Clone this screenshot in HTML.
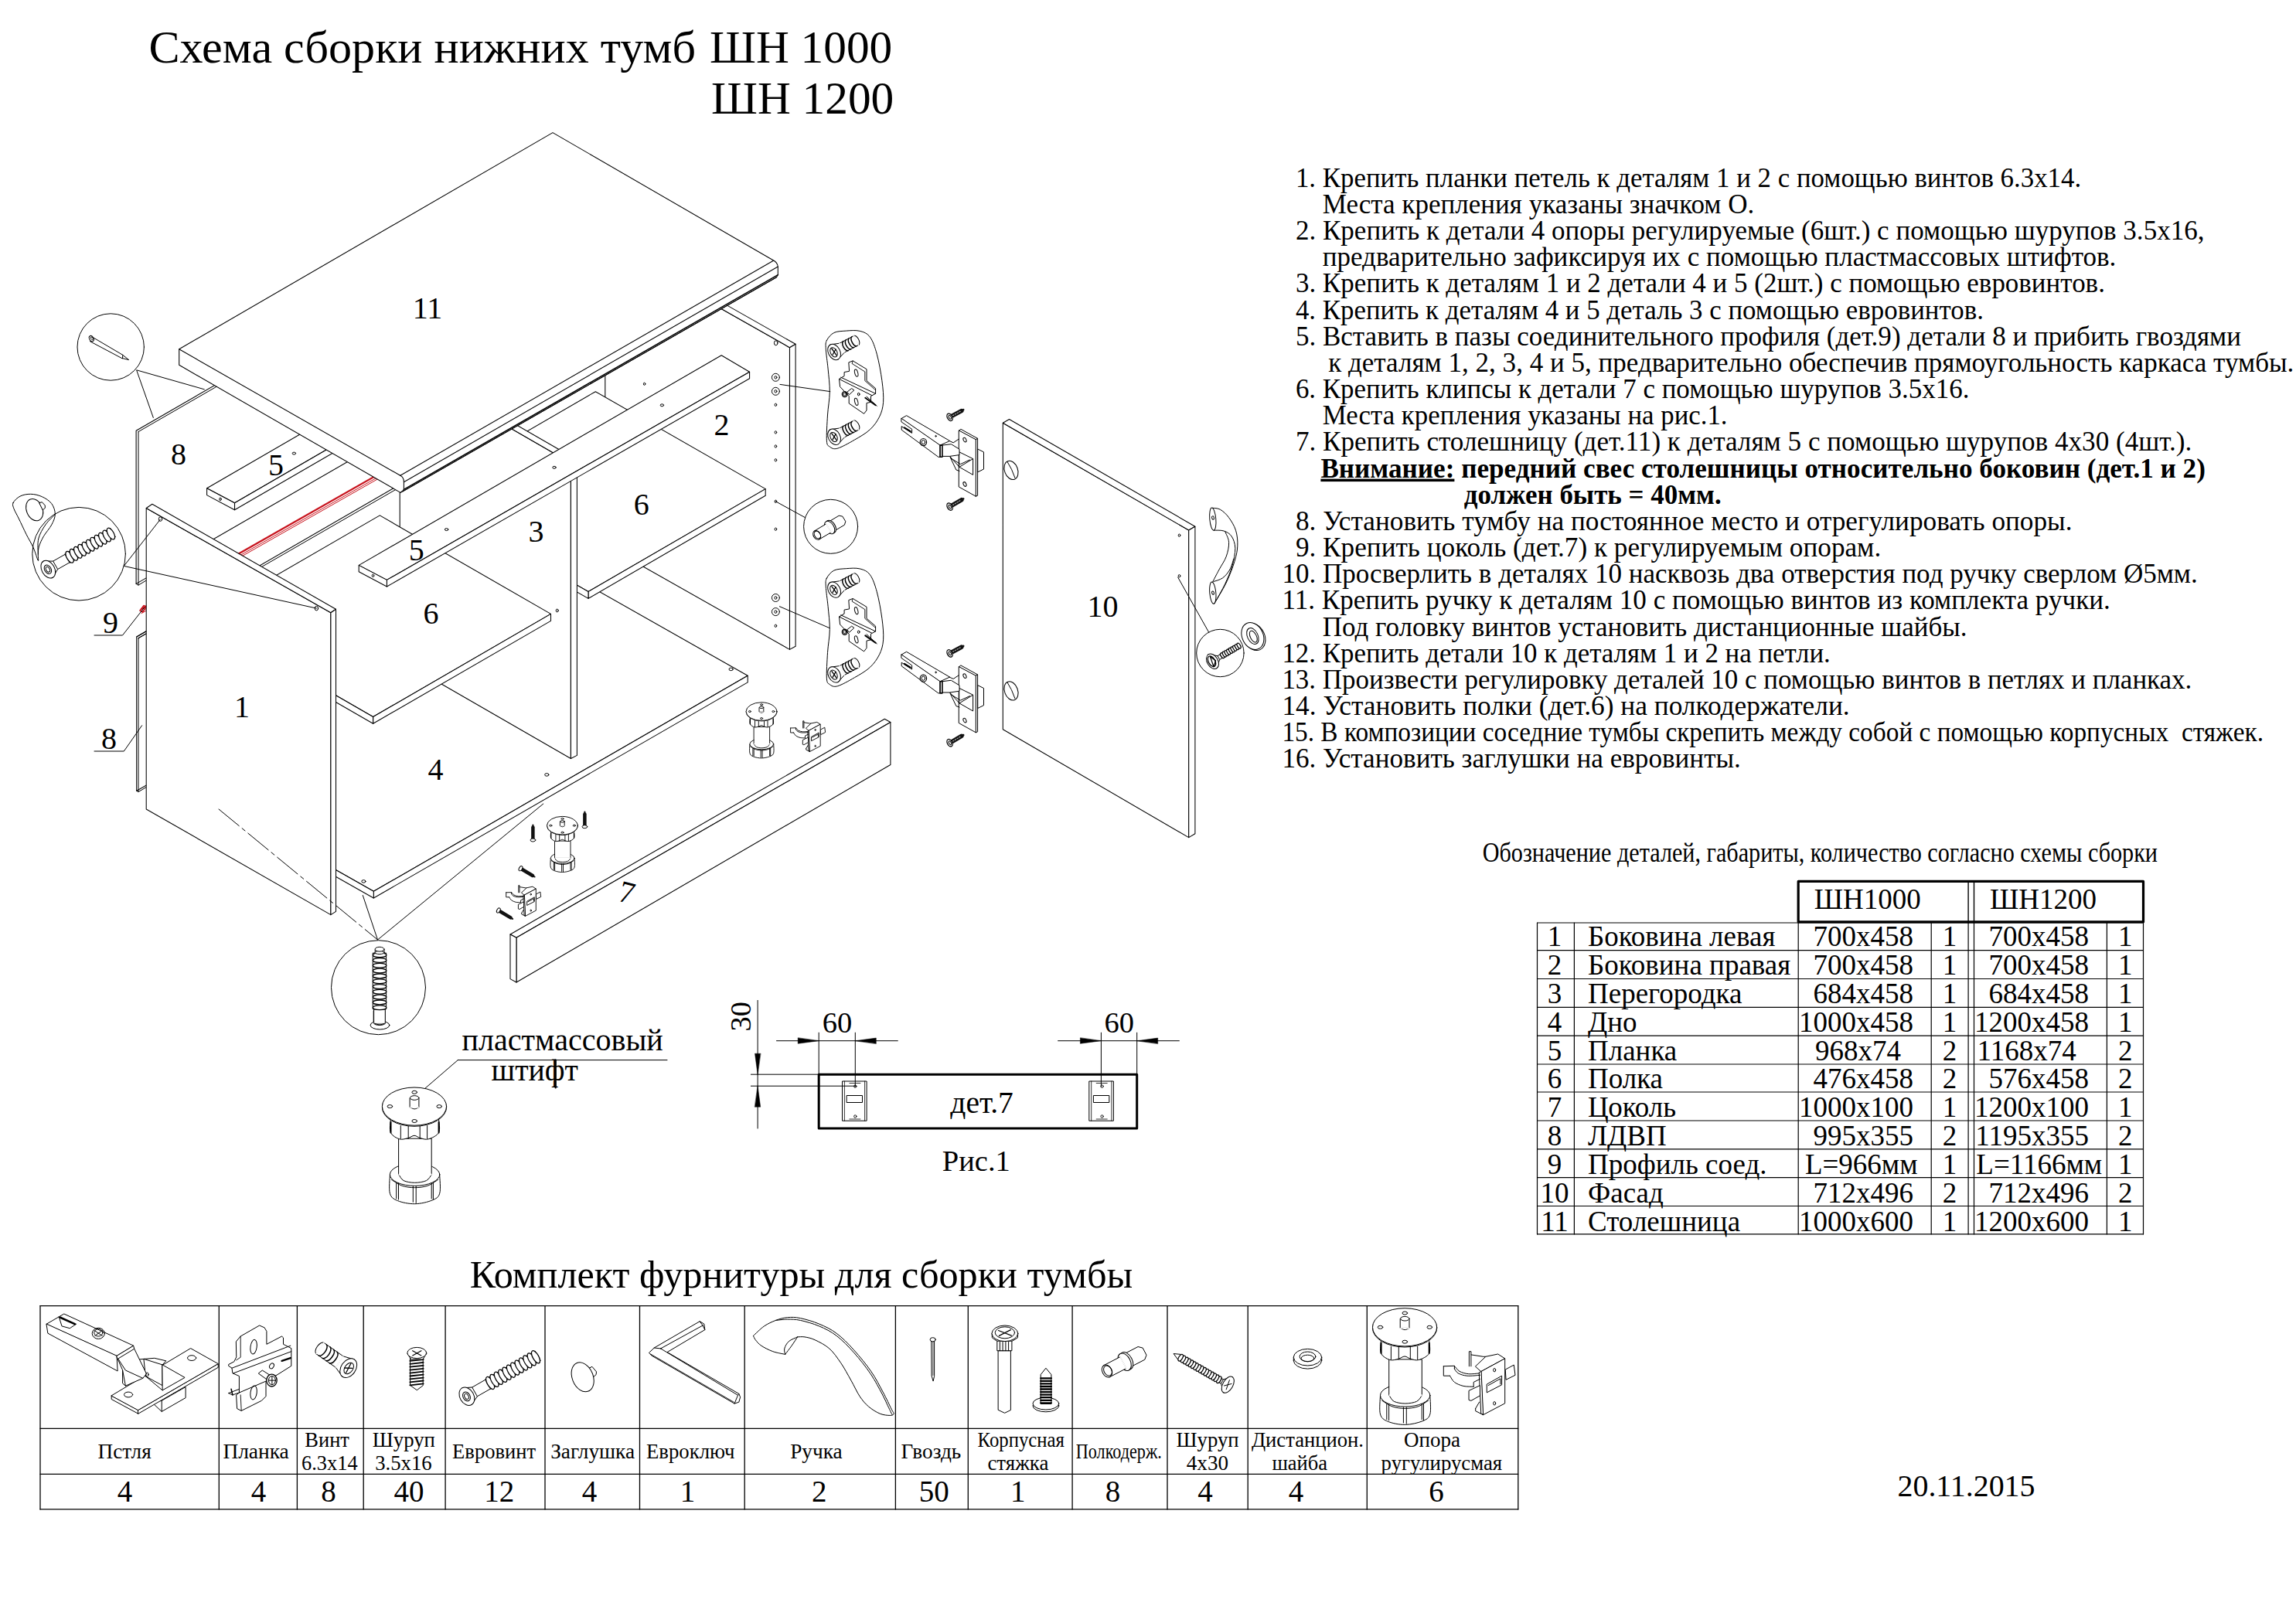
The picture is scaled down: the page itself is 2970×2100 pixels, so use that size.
<!DOCTYPE html>
<html lang="ru"><head><meta charset="utf-8"><title>Схема сборки нижних тумб ШН 1000 / ШН 1200</title>
<style>
html,body{margin:0;padding:0;background:#fff}
svg{display:block}
text{font-family:"Liberation Serif","Times New Roman",serif;fill:#000;white-space:pre}
path,ellipse,line,rect,circle{stroke-linecap:round;stroke-linejoin:round}
</style></head><body>
<svg width="2970" height="2100" viewBox="0 0 2970 2100">
<rect x="0" y="0" width="2970" height="2100" fill="#fff" stroke="none"/>
<text x="192.5" y="80.8" font-size="59.5" textLength="707.5" lengthAdjust="spacingAndGlyphs" >Схема сборки нижних тумб</text>
<text x="918.0" y="80.8" font-size="59.5" textLength="236.3" lengthAdjust="spacingAndGlyphs" >ШН 1000</text>
<text x="920.0" y="146.7" font-size="59.5" textLength="236.3" lengthAdjust="spacingAndGlyphs" >ШН 1200</text>
<text x="1675.9" y="241.7" font-size="35" textLength="1016.3" lengthAdjust="spacingAndGlyphs" >1. Крепить планки петель к деталям 1 и 2 с помощью винтов 6.3х14.</text>
<text x="1710.7" y="275.9" font-size="35" textLength="558.6" lengthAdjust="spacingAndGlyphs" >Места крепления указаны значком О.</text>
<text x="1675.9" y="310.0" font-size="35" textLength="1175.6" lengthAdjust="spacingAndGlyphs" >2. Крепить к детали 4 опоры регулируемые (6шт.) с помощью шурупов 3.5х16,</text>
<text x="1710.7" y="344.2" font-size="35" textLength="1026.7" lengthAdjust="spacingAndGlyphs" >предварительно зафиксируя их с помощью пластмассовых штифтов.</text>
<text x="1675.9" y="378.4" font-size="35" textLength="1047.0" lengthAdjust="spacingAndGlyphs" >3. Крепить к деталям 1 и 2 детали 4 и 5 (2шт.) с помощью евровинтов.</text>
<text x="1675.9" y="412.6" font-size="35" textLength="890.0" lengthAdjust="spacingAndGlyphs" >4. Крепить к деталям 4 и 5 деталь 3 с помощью евровинтов.</text>
<text x="1675.9" y="446.7" font-size="35" textLength="1223.1" lengthAdjust="spacingAndGlyphs" >5. Вставить в пазы соединительного профиля (дет.9) детали 8 и прибить гвоздями</text>
<text x="1718.2" y="480.9" font-size="35" textLength="1249.1" lengthAdjust="spacingAndGlyphs" >к деталям 1, 2, 3, 4 и 5, предварительно обеспечив прямоугольность каркаса тумбы.</text>
<text x="1675.9" y="515.1" font-size="35" textLength="871.5" lengthAdjust="spacingAndGlyphs" >6. Крепить клипсы к детали 7 с помощью шурупов 3.5х16.</text>
<text x="1710.7" y="549.2" font-size="35" textLength="523.9" lengthAdjust="spacingAndGlyphs" >Места крепления указаны на рис.1.</text>
<text x="1675.9" y="583.4" font-size="35" textLength="1159.4" lengthAdjust="spacingAndGlyphs" >7. Крепить столешницу (дет.11) к деталям 5 с помощью шурупов 4х30 (4шт.).</text>
<text x="1675.9" y="685.9" font-size="35" textLength="1004.7" lengthAdjust="spacingAndGlyphs" >8. Установить тумбу на постоянное место и отрегулировать опоры.</text>
<text x="1675.9" y="720.1" font-size="35" textLength="757.3" lengthAdjust="spacingAndGlyphs" >9. Крепить цоколь (дет.7) к регулируемым опорам.</text>
<text x="1658.4" y="754.2" font-size="35" textLength="1184.4" lengthAdjust="spacingAndGlyphs" >10. Просверлить в деталях 10 насквозь два отверстия под ручку сверлом Ø5мм.</text>
<text x="1658.4" y="788.4" font-size="35" textLength="1071.4" lengthAdjust="spacingAndGlyphs" >11. Крепить ручку к деталям 10 с помощью винтов из комплекта ручки.</text>
<text x="1710.7" y="822.6" font-size="35" textLength="833.8" lengthAdjust="spacingAndGlyphs" >Под головку винтов установить дистанционные шайбы.</text>
<text x="1658.4" y="856.8" font-size="35" textLength="709.4" lengthAdjust="spacingAndGlyphs" >12. Крепить детали 10 к деталям 1 и 2 на петли.</text>
<text x="1658.4" y="890.9" font-size="35" textLength="1176.9" lengthAdjust="spacingAndGlyphs" >13. Произвести регулировку деталей 10 с помощью винтов в петлях и планках.</text>
<text x="1658.4" y="925.1" font-size="35" textLength="734.3" lengthAdjust="spacingAndGlyphs" >14. Установить полки (дет.6) на полкодержатели.</text>
<text x="1658.4" y="959.3" font-size="35" textLength="1269.6" lengthAdjust="spacingAndGlyphs" >15. В композиции соседние тумбы скрепить между собой с помощью корпусных  стяжек.</text>
<text x="1658.4" y="993.4" font-size="35" textLength="593.5" lengthAdjust="spacingAndGlyphs" >16. Установить заглушки на евровинты.</text>
<text x="1708.4" y="617.6" font-size="35" font-weight="bold" textLength="1144.5" lengthAdjust="spacingAndGlyphs"><tspan text-decoration="underline">Внимание:</tspan> передний свес столешницы относительно боковин (дет.1 и 2)</text>
<text x="1893.7" y="651.7" font-size="35" textLength="333.0" lengthAdjust="spacingAndGlyphs" font-weight="bold" >должен быть = 40мм.</text>
<text x="1917.7" y="1115.0" font-size="35" textLength="873.3" lengthAdjust="spacingAndGlyphs" >Обозначение деталей, габариты, количество согласно схемы сборки</text>
<path d="M1988.5 1194.0 L2772.5 1194.0" fill="none" stroke="#000" stroke-width="1.2" />
<path d="M1988.5 1229.7 L2772.5 1229.7" fill="none" stroke="#000" stroke-width="1.2" />
<path d="M1988.5 1266.5 L2772.5 1266.5" fill="none" stroke="#000" stroke-width="1.2" />
<path d="M1988.5 1303.4 L2772.5 1303.4" fill="none" stroke="#000" stroke-width="1.2" />
<path d="M1988.5 1340.2 L2772.5 1340.2" fill="none" stroke="#000" stroke-width="1.2" />
<path d="M1988.5 1377.0 L2772.5 1377.0" fill="none" stroke="#000" stroke-width="1.2" />
<path d="M1988.5 1413.0 L2772.5 1413.0" fill="none" stroke="#000" stroke-width="1.2" />
<path d="M1988.5 1450.0 L2772.5 1450.0" fill="none" stroke="#000" stroke-width="1.2" />
<path d="M1988.5 1486.8 L2772.5 1486.8" fill="none" stroke="#000" stroke-width="1.2" />
<path d="M1988.5 1523.6 L2772.5 1523.6" fill="none" stroke="#000" stroke-width="1.2" />
<path d="M1988.5 1560.5 L2772.5 1560.5" fill="none" stroke="#000" stroke-width="1.2" />
<path d="M1988.5 1596.9 L2772.5 1596.9" fill="none" stroke="#000" stroke-width="1.2" />
<path d="M1988.5 1194.0 L1988.5 1596.9" fill="none" stroke="#000" stroke-width="1.2" />
<path d="M2036.4 1194.0 L2036.4 1596.9" fill="none" stroke="#000" stroke-width="1.2" />
<path d="M2326.2 1194.0 L2326.2 1596.9" fill="none" stroke="#000" stroke-width="1.2" />
<path d="M2498.2 1194.0 L2498.2 1596.9" fill="none" stroke="#000" stroke-width="1.2" />
<path d="M2546.1 1194.0 L2546.1 1596.9" fill="none" stroke="#000" stroke-width="1.2" />
<path d="M2553.5 1194.0 L2553.5 1596.9" fill="none" stroke="#000" stroke-width="1.2" />
<path d="M2725.4 1194.0 L2725.4 1596.9" fill="none" stroke="#000" stroke-width="1.2" />
<path d="M2772.5 1194.0 L2772.5 1596.9" fill="none" stroke="#000" stroke-width="1.2" />
<rect x="2326.2" y="1140.4" width="446.3" height="52.4" fill="none" stroke="#000" stroke-width="3.2"/>
<path d="M2546.1 1140.4 L2546.1 1194.0" fill="none" stroke="#000" stroke-width="1.4" />
<path d="M2553.5 1140.4 L2553.5 1194.0" fill="none" stroke="#000" stroke-width="1.4" />
<text x="2346.7" y="1175.6" font-size="37" >ШН1000</text>
<text x="2573.9" y="1175.6" font-size="37" >ШН1200</text>
<text x="2011.0" y="1223.5" font-size="37" text-anchor="middle" >1</text>
<text x="2054.0" y="1223.5" font-size="37" >Боковина левая</text>
<text x="2475.0" y="1223.5" font-size="37" text-anchor="end" >700х458</text>
<text x="2522.0" y="1223.5" font-size="37" text-anchor="middle" >1</text>
<text x="2702.0" y="1223.5" font-size="37" text-anchor="end" >700х458</text>
<text x="2749.2" y="1223.5" font-size="37" text-anchor="middle" >1</text>
<text x="2011.0" y="1260.5" font-size="37" text-anchor="middle" >2</text>
<text x="2054.0" y="1260.5" font-size="37" >Боковина правая</text>
<text x="2475.0" y="1260.5" font-size="37" text-anchor="end" >700х458</text>
<text x="2522.0" y="1260.5" font-size="37" text-anchor="middle" >1</text>
<text x="2702.0" y="1260.5" font-size="37" text-anchor="end" >700х458</text>
<text x="2749.2" y="1260.5" font-size="37" text-anchor="middle" >1</text>
<text x="2011.0" y="1297.6" font-size="37" text-anchor="middle" >3</text>
<text x="2054.0" y="1297.6" font-size="37" >Перегородка</text>
<text x="2475.0" y="1297.6" font-size="37" text-anchor="end" >684х458</text>
<text x="2522.0" y="1297.6" font-size="37" text-anchor="middle" >1</text>
<text x="2702.0" y="1297.6" font-size="37" text-anchor="end" >684х458</text>
<text x="2749.2" y="1297.6" font-size="37" text-anchor="middle" >1</text>
<text x="2011.0" y="1334.7" font-size="37" text-anchor="middle" >4</text>
<text x="2054.0" y="1334.7" font-size="37" >Дно</text>
<text x="2475.0" y="1334.7" font-size="37" text-anchor="end" >1000х458</text>
<text x="2522.0" y="1334.7" font-size="37" text-anchor="middle" >1</text>
<text x="2702.0" y="1334.7" font-size="37" text-anchor="end" >1200х458</text>
<text x="2749.2" y="1334.7" font-size="37" text-anchor="middle" >1</text>
<text x="2011.0" y="1371.7" font-size="37" text-anchor="middle" >5</text>
<text x="2054.0" y="1371.7" font-size="37" >Планка</text>
<text x="2348.0" y="1371.7" font-size="37" >968х74</text>
<text x="2522.0" y="1371.7" font-size="37" text-anchor="middle" >2</text>
<text x="2557.6" y="1371.7" font-size="37" >1168х74</text>
<text x="2749.2" y="1371.7" font-size="37" text-anchor="middle" >2</text>
<text x="2011.0" y="1407.9" font-size="37" text-anchor="middle" >6</text>
<text x="2054.0" y="1407.9" font-size="37" >Полка</text>
<text x="2475.0" y="1407.9" font-size="37" text-anchor="end" >476х458</text>
<text x="2522.0" y="1407.9" font-size="37" text-anchor="middle" >2</text>
<text x="2702.0" y="1407.9" font-size="37" text-anchor="end" >576х458</text>
<text x="2749.2" y="1407.9" font-size="37" text-anchor="middle" >2</text>
<text x="2011.0" y="1445.1" font-size="37" text-anchor="middle" >7</text>
<text x="2054.0" y="1445.1" font-size="37" >Цоколь</text>
<text x="2475.0" y="1445.1" font-size="37" text-anchor="end" >1000х100</text>
<text x="2522.0" y="1445.1" font-size="37" text-anchor="middle" >1</text>
<text x="2702.0" y="1445.1" font-size="37" text-anchor="end" >1200х100</text>
<text x="2749.2" y="1445.1" font-size="37" text-anchor="middle" >1</text>
<text x="2011.0" y="1482.1" font-size="37" text-anchor="middle" >8</text>
<text x="2054.0" y="1482.1" font-size="37" >ЛДВП</text>
<text x="2475.0" y="1482.1" font-size="37" text-anchor="end" >995х355</text>
<text x="2522.0" y="1482.1" font-size="37" text-anchor="middle" >2</text>
<text x="2702.0" y="1482.1" font-size="37" text-anchor="end" >1195х355</text>
<text x="2749.2" y="1482.1" font-size="37" text-anchor="middle" >2</text>
<text x="2011.0" y="1519.2" font-size="37" text-anchor="middle" >9</text>
<text x="2054.0" y="1519.2" font-size="37" >Профиль соед.</text>
<text x="2480.7" y="1519.2" font-size="37" text-anchor="end" >L=966мм</text>
<text x="2522.0" y="1519.2" font-size="37" text-anchor="middle" >1</text>
<text x="2556.3" y="1519.2" font-size="37" >L=1166мм</text>
<text x="2749.2" y="1519.2" font-size="37" text-anchor="middle" >1</text>
<text x="2011.0" y="1556.3" font-size="37" text-anchor="middle" >10</text>
<text x="2054.0" y="1556.3" font-size="37" >Фасад</text>
<text x="2475.0" y="1556.3" font-size="37" text-anchor="end" >712х496</text>
<text x="2522.0" y="1556.3" font-size="37" text-anchor="middle" >2</text>
<text x="2702.0" y="1556.3" font-size="37" text-anchor="end" >712х496</text>
<text x="2749.2" y="1556.3" font-size="37" text-anchor="middle" >2</text>
<text x="2011.0" y="1592.9" font-size="37" text-anchor="middle" >11</text>
<text x="2054.0" y="1592.9" font-size="37" >Столешница</text>
<text x="2475.0" y="1592.9" font-size="37" text-anchor="end" >1000х600</text>
<text x="2522.0" y="1592.9" font-size="37" text-anchor="middle" >1</text>
<text x="2702.0" y="1592.9" font-size="37" text-anchor="end" >1200х600</text>
<text x="2749.2" y="1592.9" font-size="37" text-anchor="middle" >1</text>
<text x="607.7" y="1666.1" font-size="50" textLength="857.5" lengthAdjust="spacingAndGlyphs" >Комплект фурнитуры для сборки тумбы</text>
<path d="M52.0 1689.6 L1963.8 1689.6" fill="none" stroke="#000" stroke-width="1.3" />
<path d="M52.0 1848.3 L1963.8 1848.3" fill="none" stroke="#000" stroke-width="1.3" />
<path d="M52.0 1907.3 L1963.8 1907.3" fill="none" stroke="#000" stroke-width="1.3" />
<path d="M52.0 1952.9 L1963.8 1952.9" fill="none" stroke="#000" stroke-width="1.3" />
<path d="M52.0 1689.6 L52.0 1952.9" fill="none" stroke="#000" stroke-width="1.3" />
<path d="M283.3 1689.6 L283.3 1952.9" fill="none" stroke="#000" stroke-width="1.3" />
<path d="M384.4 1689.6 L384.4 1952.9" fill="none" stroke="#000" stroke-width="1.3" />
<path d="M470.2 1689.6 L470.2 1952.9" fill="none" stroke="#000" stroke-width="1.3" />
<path d="M576.1 1689.6 L576.1 1952.9" fill="none" stroke="#000" stroke-width="1.3" />
<path d="M705.0 1689.6 L705.0 1952.9" fill="none" stroke="#000" stroke-width="1.3" />
<path d="M827.5 1689.6 L827.5 1952.9" fill="none" stroke="#000" stroke-width="1.3" />
<path d="M963.2 1689.6 L963.2 1952.9" fill="none" stroke="#000" stroke-width="1.3" />
<path d="M1158.4 1689.6 L1158.4 1952.9" fill="none" stroke="#000" stroke-width="1.3" />
<path d="M1252.3 1689.6 L1252.3 1952.9" fill="none" stroke="#000" stroke-width="1.3" />
<path d="M1387.1 1689.6 L1387.1 1952.9" fill="none" stroke="#000" stroke-width="1.3" />
<path d="M1510.0 1689.6 L1510.0 1952.9" fill="none" stroke="#000" stroke-width="1.3" />
<path d="M1614.2 1689.6 L1614.2 1952.9" fill="none" stroke="#000" stroke-width="1.3" />
<path d="M1768.3 1689.6 L1768.3 1952.9" fill="none" stroke="#000" stroke-width="1.3" />
<path d="M1963.8 1689.6 L1963.8 1952.9" fill="none" stroke="#000" stroke-width="1.3" />
<text x="126.6" y="1886.8" font-size="27" textLength="69.1" lengthAdjust="spacingAndGlyphs" >Пстля</text>
<text x="288.4" y="1886.8" font-size="27" textLength="85.4" lengthAdjust="spacingAndGlyphs" >Планка</text>
<text x="585.1" y="1886.8" font-size="27" textLength="108.0" lengthAdjust="spacingAndGlyphs" >Евровинт</text>
<text x="712.2" y="1886.8" font-size="27" textLength="108.8" lengthAdjust="spacingAndGlyphs" >Заглушка</text>
<text x="836.0" y="1886.8" font-size="27" textLength="114.4" lengthAdjust="spacingAndGlyphs" >Евроключ</text>
<text x="1022.2" y="1886.8" font-size="27" textLength="67.4" lengthAdjust="spacingAndGlyphs" >Ручка</text>
<text x="1165.6" y="1886.8" font-size="27" textLength="77.7" lengthAdjust="spacingAndGlyphs" >Гвоздь</text>
<text x="1391.8" y="1886.8" font-size="27" textLength="111.0" lengthAdjust="spacingAndGlyphs" >Полкодерж.</text>
<text x="394.3" y="1871.8" font-size="27" textLength="57.6" lengthAdjust="spacingAndGlyphs" >Винт</text>
<text x="390.0" y="1901.7" font-size="27" textLength="72.6" lengthAdjust="spacingAndGlyphs" >6.3х14</text>
<text x="481.8" y="1871.8" font-size="27" textLength="81.1" lengthAdjust="spacingAndGlyphs" >Шуруп</text>
<text x="485.2" y="1901.7" font-size="27" textLength="73.4" lengthAdjust="spacingAndGlyphs" >3.5х16</text>
<text x="1264.6" y="1871.8" font-size="27" textLength="112.3" lengthAdjust="spacingAndGlyphs" >Корпусная</text>
<text x="1277.4" y="1901.7" font-size="27" textLength="79.0" lengthAdjust="spacingAndGlyphs" >стяжка</text>
<text x="1521.6" y="1871.8" font-size="27" textLength="81.1" lengthAdjust="spacingAndGlyphs" >Шуруп</text>
<text x="1534.8" y="1901.7" font-size="27" textLength="54.2" lengthAdjust="spacingAndGlyphs" >4х30</text>
<text x="1618.9" y="1871.8" font-size="27" textLength="145.1" lengthAdjust="spacingAndGlyphs" >Дистанцион.</text>
<text x="1645.4" y="1901.7" font-size="27" textLength="71.7" lengthAdjust="spacingAndGlyphs" >шайба</text>
<text x="1816.1" y="1871.8" font-size="27" textLength="73.0" lengthAdjust="spacingAndGlyphs" >Опора</text>
<text x="1786.6" y="1901.7" font-size="27" textLength="156.6" lengthAdjust="spacingAndGlyphs" >ругулирусмая</text>
<text x="161.6" y="1943.1" font-size="39" text-anchor="middle" >4</text>
<text x="334.5" y="1943.1" font-size="39" text-anchor="middle" >4</text>
<text x="425.0" y="1943.1" font-size="39" text-anchor="middle" >8</text>
<text x="529.1" y="1943.1" font-size="39" text-anchor="middle" >40</text>
<text x="645.7" y="1943.1" font-size="39" text-anchor="middle" >12</text>
<text x="762.6" y="1943.1" font-size="39" text-anchor="middle" >4</text>
<text x="889.4" y="1943.1" font-size="39" text-anchor="middle" >1</text>
<text x="1059.8" y="1943.1" font-size="39" text-anchor="middle" >2</text>
<text x="1208.3" y="1943.1" font-size="39" text-anchor="middle" >50</text>
<text x="1316.7" y="1943.1" font-size="39" text-anchor="middle" >1</text>
<text x="1439.6" y="1943.1" font-size="39" text-anchor="middle" >8</text>
<text x="1559.1" y="1943.1" font-size="39" text-anchor="middle" >4</text>
<text x="1676.5" y="1943.1" font-size="39" text-anchor="middle" >4</text>
<text x="1857.9" y="1943.1" font-size="39" text-anchor="middle" >6</text>
<text x="2454.5" y="1935.5" font-size="39.5" textLength="178.0" lengthAdjust="spacingAndGlyphs" >20.11.2015</text>
<text x="597.6" y="1358.9" font-size="40" textLength="260.2" lengthAdjust="spacingAndGlyphs" >пластмассовый</text>
<text x="635.5" y="1398.3" font-size="40" textLength="112.5" lengthAdjust="spacingAndGlyphs" >штифт</text>
<text x="1229.3" y="1439.7" font-size="39.5" >дет.7</text>
<text x="1218.8" y="1515.0" font-size="38.5" >Рис.1</text>
<text x="1063.8" y="1335.5" font-size="38.5" >60</text>
<text x="1428.6" y="1335.5" font-size="38.5" >60</text>
<text x="971.4" y="1334.5" font-size="38.5" transform="rotate(-90 971.4 1334.5)">30</text>
<path d="M176.1 557.2 L657.6 279.0 L657.6 477.4 L176.1 755.4 Z" fill="#fff" stroke="#000" stroke-width="1.05" />
<path d="M179.0 558.6 L660.0 281.0" fill="none" stroke="#000" stroke-width="1.0" />
<path d="M179.0 558.6 L179.0 757.1" fill="none" stroke="#000" stroke-width="1.0" />
<path d="M176.1 755.4 L179.0 757.1 L189.2 751.0" fill="none" stroke="#000" stroke-width="1.0" />
<path d="M183.0 788.0 L700.0 494.0" fill="none" stroke="#c8141e" stroke-width="2.2" />
<path d="M183.0 791.2 L700.0 497.2" fill="none" stroke="#c8141e" stroke-width="1.0" />
<path d="M183.0 793.6 L700.0 499.6" fill="none" stroke="#c8141e" stroke-width="1.0" />
<path d="M181.0 790.0 L186.0 783.5 L189.0 785.0 L184.5 792.0 L181.0 790.0" fill="none" stroke="#c8141e" stroke-width="1.6" />
<path d="M176.7 824.0 L658.2 545.5 L658.2 745.0 L176.7 1023.3 Z" fill="#fff" stroke="#000" stroke-width="1.05" />
<path d="M178.9 826.0 L189.2 820.0" fill="none" stroke="#000" stroke-width="1.0" />
<path d="M179.2 825.4 L660.0 548.0" fill="none" stroke="#000" stroke-width="1.0" />
<path d="M179.0 825.4 L179.0 1024.5" fill="none" stroke="#000" stroke-width="1.0" />
<path d="M176.7 1023.3 L179.0 1024.6 L189.2 1018.5" fill="none" stroke="#000" stroke-width="1.0" />
<path d="M176.7 824.0 L189.2 816.7" fill="none" stroke="#000" stroke-width="1.05" />
<path d="M1021.5 449.7 L1021.5 840.4 L782.8 705.2 L782.8 314.5 Z" fill="#fff" stroke="#000" stroke-width="1.05" />
<path d="M1021.5 449.7 L1029.1 445.3 L790.4 310.1 L782.8 314.5 Z" fill="#fff" stroke="#000" stroke-width="1.05" />
<path d="M1021.5 449.7 L1029.1 445.3 L1029.1 836.2 L1021.5 840.4 Z" fill="#fff" stroke="#000" stroke-width="1.05" />
<ellipse cx="1003.7" cy="443.8" rx="2.3" ry="3.0" fill="none" stroke="#000" stroke-width="1.0"/>
<ellipse cx="1003.4" cy="488.3" rx="5.0" ry="5.0" fill="none" stroke="#000" stroke-width="1.0"/>
<ellipse cx="1003.4" cy="488.3" rx="1.5" ry="1.8" fill="none" stroke="#000" stroke-width="1.0"/>
<ellipse cx="1003.4" cy="506.3" rx="5.0" ry="5.0" fill="none" stroke="#000" stroke-width="1.0"/>
<ellipse cx="1003.4" cy="506.3" rx="1.5" ry="1.8" fill="none" stroke="#000" stroke-width="1.0"/>
<ellipse cx="1003.4" cy="773.5" rx="5.0" ry="5.0" fill="none" stroke="#000" stroke-width="1.0"/>
<ellipse cx="1003.4" cy="773.5" rx="1.5" ry="1.8" fill="none" stroke="#000" stroke-width="1.0"/>
<ellipse cx="1003.4" cy="791.6" rx="5.0" ry="5.0" fill="none" stroke="#000" stroke-width="1.0"/>
<ellipse cx="1003.4" cy="791.6" rx="1.5" ry="1.8" fill="none" stroke="#000" stroke-width="1.0"/>
<ellipse cx="1003.4" cy="523.8" rx="1.3" ry="1.7" fill="none" stroke="#000" stroke-width="1.0"/>
<ellipse cx="1003.4" cy="559.4" rx="1.3" ry="1.7" fill="none" stroke="#000" stroke-width="1.0"/>
<ellipse cx="1003.4" cy="577.5" rx="1.3" ry="1.7" fill="none" stroke="#000" stroke-width="1.0"/>
<ellipse cx="1003.4" cy="595.3" rx="1.3" ry="1.7" fill="none" stroke="#000" stroke-width="1.0"/>
<ellipse cx="1003.4" cy="648.8" rx="1.3" ry="1.7" fill="none" stroke="#000" stroke-width="1.0"/>
<ellipse cx="1003.4" cy="684.7" rx="1.3" ry="1.7" fill="none" stroke="#000" stroke-width="1.0"/>
<ellipse cx="1003.4" cy="809.8" rx="1.3" ry="1.7" fill="none" stroke="#000" stroke-width="1.0"/>
<ellipse cx="833.6" cy="496.8" rx="1.2" ry="1.6" fill="none" stroke="#000" stroke-width="1.0"/>
<path d="M483.3 1153.3 L967.2 874.2 L728.5 739.0 L244.6 1018.1 Z" fill="#fff" stroke="#000" stroke-width="1.05" />
<path d="M483.3 1153.3 L967.2 874.2 L967.2 882.9 L483.3 1162.0 Z" fill="#fff" stroke="#000" stroke-width="1.05" />
<path d="M483.3 1153.3 L483.3 1162.0 L244.6 1026.8 L244.6 1018.1 Z" fill="#fff" stroke="#000" stroke-width="1.05" />
<ellipse cx="470.4" cy="1140.4" rx="2.6" ry="1.8" fill="none" stroke="#000" stroke-width="1.0"/>
<ellipse cx="945.6" cy="865.9" rx="2.6" ry="1.8" fill="none" stroke="#000" stroke-width="1.0"/>
<ellipse cx="707.3" cy="1002.4" rx="2.6" ry="1.8" fill="none" stroke="#000" stroke-width="1.0"/>
<path d="M990.2 632.6 L761.0 765.5 L541.1 639.6 L770.3 506.7 Z" fill="#fff" stroke="#000" stroke-width="1.05" />
<path d="M990.2 632.6 L761.0 765.5 L761.0 774.4 L990.2 641.3 Z" fill="#fff" stroke="#000" stroke-width="1.05" />
<path d="M761.0 765.5 L761.0 774.4 L541.1 648.5 L541.1 639.6 Z" fill="#fff" stroke="#000" stroke-width="1.05" />
<path d="M738.4 599.0 L738.4 981.5 L517.2 854.0 L517.2 471.5 Z" fill="#fff" stroke="#000" stroke-width="1.05" />
<path d="M738.4 599.0 L746.4 595.0 L525.2 467.5 L517.2 471.5 Z" fill="#fff" stroke="#000" stroke-width="1.05" />
<path d="M738.4 599.0 L746.4 595.0 L746.4 977.4 L738.4 981.5 Z" fill="#fff" stroke="#000" stroke-width="1.05" />
<ellipse cx="720.7" cy="790.0" rx="1.5" ry="1.9" fill="none" stroke="#000" stroke-width="1.0"/>
<path d="M491.3 666.9 L712.5 794.4 L482.6 927.5 L261.4 800.0 Z" fill="#fff" stroke="#000" stroke-width="1.05" />
<path d="M712.5 794.4 L482.6 927.5 L482.6 936.2 L712.5 803.4 Z" fill="#fff" stroke="#000" stroke-width="1.05" />
<path d="M482.6 927.5 L482.6 936.2 L261.4 808.7 L261.4 800.0 Z" fill="#fff" stroke="#000" stroke-width="1.05" />
<path d="M267.6 631.7 L303.5 650.8 L772.5 379.2 L736.6 360.1 Z" fill="#fff" stroke="#000" stroke-width="1.05" />
<path d="M303.5 650.8 L772.5 379.2 L772.5 388.2 L303.5 659.8 Z" fill="#fff" stroke="#000" stroke-width="1.05" />
<path d="M267.6 631.7 L303.5 650.8 L303.5 659.8 L267.6 640.6 Z" fill="#fff" stroke="#000" stroke-width="1.05" />
<ellipse cx="285.0" cy="645.8" rx="1.3" ry="1.7" fill="none" stroke="#000" stroke-width="1.0"/>
<ellipse cx="380.4" cy="586.6" rx="2.2" ry="1.5" fill="none" stroke="#000" stroke-width="1.0"/>
<path d="M464.2 731.4 L500.4 750.4 L969.6 481.2 L933.2 459.7 Z" fill="#fff" stroke="#000" stroke-width="1.05" />
<path d="M500.4 750.4 L969.6 481.2 L969.6 489.8 L500.4 759.0 Z" fill="#fff" stroke="#000" stroke-width="1.05" />
<path d="M464.2 731.4 L500.4 750.4 L500.4 759.0 L464.2 739.7 Z" fill="#fff" stroke="#000" stroke-width="1.05" />
<ellipse cx="482.5" cy="744.9" rx="1.3" ry="1.7" fill="none" stroke="#000" stroke-width="1.0"/>
<ellipse cx="577.6" cy="685.1" rx="2.2" ry="1.5" fill="none" stroke="#000" stroke-width="1.0"/>
<ellipse cx="717.0" cy="604.8" rx="2.2" ry="1.5" fill="none" stroke="#000" stroke-width="1.0"/>
<ellipse cx="856.4" cy="524.3" rx="2.2" ry="1.5" fill="none" stroke="#000" stroke-width="1.0"/>
<path d="M715.0 171.6 L1000.2 336.8 Q1005.5 339.5 1006.3 345 L1006.3 355.6 L1004.5 358.7 L518.1 637.4 L231.7 472.3 L231.7 451.8 Z" fill="#fff" stroke="#000" stroke-width="1.05"/>
<path d="M231.7 451.8 L517.8 615.3" fill="none" stroke="#000" stroke-width="1.05" />
<path d="M517.8 615.3 Q522.4 617.5 522.4 623.7 L522.4 633.6 L518.1 637.4" fill="none" stroke="#000" stroke-width="1.05"/>
<path d="M517.8 615.3 L1000.4 337.2" fill="none" stroke="#000" stroke-width="1.05" />
<path d="M522.4 623.7 L1006.3 345.0" fill="none" stroke="#000" stroke-width="1.05" />
<path d="M522.4 633.4 L1006.3 355.6" fill="none" stroke="#000" stroke-width="1.6" />
<path d="M521.0 636.0 L1004.5 358.7" fill="none" stroke="#000" stroke-width="1.0" />
<path d="M189.2 657.5 L427.9 792.7 L427.9 1183.6 L189.2 1047.0 Z" fill="#fff" stroke="#000" stroke-width="1.05" />
<path d="M189.2 657.5 L196.9 652.3 L434.5 788.2 L427.9 792.7 Z" fill="#fff" stroke="#000" stroke-width="1.05" />
<path d="M427.9 792.7 L434.5 788.2 L434.5 1179.4 L427.9 1183.6 Z" fill="#fff" stroke="#000" stroke-width="1.05" />
<ellipse cx="207.5" cy="671.6" rx="2.2" ry="2.8" fill="none" stroke="#000" stroke-width="1.0"/>
<ellipse cx="409.4" cy="787.1" rx="2.2" ry="2.8" fill="none" stroke="#000" stroke-width="1.0"/>
<path d="M660.0 1209.0 L668.0 1213.2 L1151.9 934.5 L1144.3 930.3 Z" fill="#fff" stroke="#000" stroke-width="1.05" />
<path d="M668.0 1213.2 L1151.9 934.5 L1151.9 989.5 L668.0 1271.0 Z" fill="#fff" stroke="#000" stroke-width="1.05" />
<path d="M660.0 1209.0 L668.0 1213.2 L668.0 1271.0 L660.0 1266.6 Z" fill="#fff" stroke="#000" stroke-width="1.05" />
<path d="M1297.3 547.3 L1537.7 686.0 L1537.7 1083.6 L1297.3 943.8 Z" fill="#fff" stroke="#000" stroke-width="1.05" />
<path d="M1297.3 547.3 L1305.5 542.5 L1545.9 681.2 L1537.7 686.0 Z" fill="#fff" stroke="#000" stroke-width="1.05" />
<path d="M1537.7 686.0 L1545.9 681.2 L1545.9 1078.8 L1537.7 1083.6 Z" fill="#fff" stroke="#000" stroke-width="1.05" />
<ellipse cx="1308.0" cy="608.4" rx="8.5" ry="12.5" fill="none" stroke="#000" stroke-width="1.05" transform="rotate(-20 1308.0 608.4)"/>
<path d="M1303 597.4 Q1309 606.4 1313 618.4" fill="none" stroke="#000" stroke-width="1"/>
<ellipse cx="1308.0" cy="893.9" rx="8.5" ry="12.5" fill="none" stroke="#000" stroke-width="1.05" transform="rotate(-20 1308.0 893.9)"/>
<path d="M1303 882.9 Q1309 891.9 1313 903.9" fill="none" stroke="#000" stroke-width="1"/>
<ellipse cx="1525.5" cy="692.7" rx="1.3" ry="1.7" fill="none" stroke="#000" stroke-width="1.0"/>
<ellipse cx="1525.5" cy="745.2" rx="1.3" ry="1.7" fill="none" stroke="#000" stroke-width="1.0"/>
<text x="553.0" y="411.7" font-size="40" text-anchor="middle" >11</text>
<text x="231.0" y="600.9" font-size="40" text-anchor="middle" >8</text>
<text x="356.9" y="615.0" font-size="40" text-anchor="middle" >5</text>
<text x="538.7" y="725.0" font-size="40" text-anchor="middle" >5</text>
<text x="693.4" y="700.9" font-size="40" text-anchor="middle" >3</text>
<text x="933.4" y="563.4" font-size="40" text-anchor="middle" >2</text>
<text x="829.8" y="665.7" font-size="40" text-anchor="middle" >6</text>
<text x="557.5" y="806.7" font-size="40" text-anchor="middle" >6</text>
<text x="313.0" y="927.8" font-size="40" text-anchor="middle" >1</text>
<text x="563.4" y="1009.0" font-size="40" text-anchor="middle" >4</text>
<text x="810.8" y="1168" font-size="40" text-anchor="middle" transform="rotate(14 810.8 1155)">7</text>
<text x="1426.4" y="798.0" font-size="40" text-anchor="middle" >10</text>
<text x="142.9" y="818.8" font-size="40" text-anchor="middle" >9</text>
<text x="141.0" y="968.6" font-size="40" text-anchor="middle" >8</text>
<path d="M122.0 822.0 L158.5 822.0 L186.4 786.4" fill="none" stroke="#000" stroke-width="1.0" />
<path d="M122.0 972.0 L160.3 972.0 L183.6 938.7" fill="none" stroke="#000" stroke-width="1.0" />
<ellipse cx="143.2" cy="449.0" rx="43.2" ry="43.2" fill="none" stroke="#000" stroke-width="1.0"/>
<path d="M264.3 503.8 L176.6 478.8 L198.3 540.4" fill="none" stroke="#000" stroke-width="1.0" />
<ellipse cx="102.1" cy="716.7" rx="60.3" ry="60.3" fill="none" stroke="#000" stroke-width="1.0"/>
<path d="M207.3 672.1 L160.3 732.4 L409.4 787.1" fill="none" stroke="#000" stroke-width="1.0" />
<ellipse cx="489.5" cy="1277.7" rx="61.0" ry="61.0" fill="none" stroke="#000" stroke-width="1.0"/>
<path d="M469.3 1158.5 L488.5 1216.0 L702.8 1040.0" fill="none" stroke="#000" stroke-width="1.0" />
<path d="M283.0 1047.0 L488.5 1216.0" fill="none" stroke="#000" stroke-width="1.0" stroke-dasharray="34 5 5 5"/>
<ellipse cx="1074.6" cy="681.3" rx="35.0" ry="35.0" fill="none" stroke="#000" stroke-width="1.0"/>
<path d="M1003.4 648.8 L1041.5 669.7" fill="none" stroke="#000" stroke-width="1.0" />
<path d="M1009.0 497.4 L1073.8 506.6" fill="none" stroke="#000" stroke-width="1.0" />
<path d="M1008.4 784.7 L1072.8 812.5" fill="none" stroke="#000" stroke-width="1.0" />
<ellipse cx="1578.4" cy="845.0" rx="30.7" ry="30.7" fill="none" stroke="#000" stroke-width="1.0"/>
<path d="M1523.7 747.0 L1563.6 818.0" fill="none" stroke="#000" stroke-width="1.0" />
<path d="M592.3 1371.6 L863.0 1371.6" fill="none" stroke="#000" stroke-width="1.0" />
<path d="M592.3 1371.6 L538.0 1418.5" fill="none" stroke="#000" stroke-width="1.0" />
<path d="M718.7 1371.6 L718.7 1407.5" fill="none" stroke="#000" stroke-width="2.2" />
<rect x="1059.2" y="1390.2" width="411.5" height="69.8" fill="none" stroke="#000" stroke-width="3"/>
<path d="M1059.2 1336.2 L1059.2 1390.2" fill="none" stroke="#000" stroke-width="1.0" />
<path d="M1470.7 1336.2 L1470.7 1390.2" fill="none" stroke="#000" stroke-width="1.0" />
<path d="M1106.3 1336.2 L1106.3 1406.0" fill="none" stroke="#000" stroke-width="1.0" />
<path d="M1424.4 1336.2 L1424.4 1406.0" fill="none" stroke="#000" stroke-width="1.0" />
<path d="M1004.5 1346.7 L1161.3 1346.7" fill="none" stroke="#000" stroke-width="1.0" />
<path d="M1368.6 1346.7 L1525.4 1346.7" fill="none" stroke="#000" stroke-width="1.0" />
<path d="M1059.2 1346.7 L1032.2 1350.3 L1032.2 1343.1 Z" fill="#000" stroke="#000" stroke-width="0.5" />
<path d="M1106.3 1346.7 L1133.3 1343.1 L1133.3 1350.3 Z" fill="#000" stroke="#000" stroke-width="0.5" />
<path d="M1424.4 1346.7 L1397.4 1350.3 L1397.4 1343.1 Z" fill="#000" stroke="#000" stroke-width="0.5" />
<path d="M1470.7 1346.7 L1497.7 1343.1 L1497.7 1350.3 Z" fill="#000" stroke="#000" stroke-width="0.5" />
<path d="M980.1 1294.4 L980.1 1460.0" fill="none" stroke="#000" stroke-width="1.0" />
<path d="M980.1 1390.2 L976.5 1363.2 L983.7 1363.2 Z" fill="#000" stroke="#000" stroke-width="0.5" />
<path d="M980.1 1405.2 L983.7 1432.2 L976.5 1432.2 Z" fill="#000" stroke="#000" stroke-width="0.5" />
<path d="M971.4 1390.2 L1059.2 1390.2" fill="none" stroke="#000" stroke-width="1.0" />
<path d="M971.4 1405.2 L1106.3 1405.2" fill="none" stroke="#000" stroke-width="1.0" />
<rect x="1089.9" y="1399" width="31.2" height="51.2" fill="none" stroke="#000" stroke-width="1"/>
<path d="M1092.4 1399.0 L1092.4 1450.2" fill="none" stroke="#000" stroke-width="0.8" />
<path d="M1118.6 1399.0 L1118.6 1450.2" fill="none" stroke="#000" stroke-width="0.8" />
<rect x="1095.5" y="1417.5" width="20" height="9" fill="none" stroke="#000" stroke-width="1"/>
<ellipse cx="1106.3" cy="1405.6" rx="1.7" ry="1.7" fill="none" stroke="#000" stroke-width="0.9"/>
<ellipse cx="1106.3" cy="1444.5" rx="1.7" ry="1.7" fill="none" stroke="#000" stroke-width="0.9"/>
<path d="M1098.9 1401.5 L1112.9 1401.5" fill="none" stroke="#000" stroke-width="0.8" />
<path d="M1098.9 1448.0 L1112.9 1448.0" fill="none" stroke="#000" stroke-width="0.8" />
<rect x="1409.2" y="1399" width="31.2" height="51.2" fill="none" stroke="#000" stroke-width="1"/>
<path d="M1411.7 1399.0 L1411.7 1450.2" fill="none" stroke="#000" stroke-width="0.8" />
<path d="M1437.9 1399.0 L1437.9 1450.2" fill="none" stroke="#000" stroke-width="0.8" />
<rect x="1414.8" y="1417.5" width="20" height="9" fill="none" stroke="#000" stroke-width="1"/>
<ellipse cx="1425.6" cy="1405.6" rx="1.7" ry="1.7" fill="none" stroke="#000" stroke-width="0.9"/>
<ellipse cx="1425.6" cy="1444.5" rx="1.7" ry="1.7" fill="none" stroke="#000" stroke-width="0.9"/>
<path d="M1418.2 1401.5 L1432.2 1401.5" fill="none" stroke="#000" stroke-width="0.8" />
<path d="M1418.2 1448.0 L1432.2 1448.0" fill="none" stroke="#000" stroke-width="0.8" />
<path d="M116.7 441.4 L119.6 436.2 L158.8 459.3 L158.5 463.6 Z" fill="#fff" stroke="#000" stroke-width="1.0" />
<path d="M158.8 459.3 L166.6 465.6 L158.5 463.6" fill="none" stroke="#000" stroke-width="1.0" />
<ellipse cx="118.3" cy="438.1" rx="2.6" ry="3.9" fill="#fff" stroke="#000" stroke-width="1.0" transform="rotate(-30 118.3 438.1)"/>
<ellipse cx="118.9" cy="437.8" rx="1.3" ry="2.1" fill="none" stroke="#000" stroke-width="0.8" transform="rotate(-30 118.9 437.8)"/>
<path d="M17.0 650.6 C18.3 647.8 22.3 644.0 26.0 642.1 C29.8 640.2 34.9 639.2 39.6 639.3 C44.4 639.3 49.8 640.6 54.4 642.7 C58.9 644.7 64.0 647.9 66.8 651.7 C69.6 655.5 71.3 660.8 71.3 665.3 C71.3 669.8 69.3 674.2 66.8 678.9 C64.4 683.6 59.4 688.9 56.6 693.6 C53.9 698.3 51.6 703.2 50.4 707.2 C49.2 711.2 49.5 714.4 49.3 717.4 C49.1 720.4 50.3 726.8 49.3 725.3 C48.2 723.8 45.6 714.0 43.0 708.3 C40.5 702.7 37.1 697.6 34.0 691.3 C30.9 685.1 27.0 676.4 24.3 671.0 C21.7 665.5 19.3 661.9 18.1 658.5 C16.9 655.1 15.7 653.3 17.0 650.6 Z" fill="none" stroke="#000" stroke-width="1.0"/>
<path d="M71.6 665.3 C69.5 667.6 62.5 673.6 58.9 678.9 C55.3 684.2 51.4 690.6 49.8 697.0 C48.2 703.4 49.4 714.0 49.3 717.4" fill="none" stroke="#000" stroke-width="1.0"/>
<ellipse cx="44.7" cy="659.6" rx="10.4" ry="14.7" fill="none" stroke="#000" stroke-width="1.0" transform="rotate(-22 44.7 659.6)"/>
<path d="M51.0 650.6 L54.4 649.7 L58.3 654.0 L58.3 657.4 L55.5 659.6 Z" fill="#fff" stroke="#000" stroke-width="1.0" />
<path d="M63.7 728.9 L84.5 717.1 L90.4 727.6 L69.6 739.4 Z" fill="#fff" stroke="#000" stroke-width="1.0" />
<path d="M84.2 716.6 L142.8 683.4 L144.7 686.6 L147.5 691.6 L149.4 694.8 L90.7 728.1 Z" fill="#fff" stroke="#000" stroke-width="1.0" />
<ellipse cx="90.1" cy="720.8" rx="3.8" ry="8.2" fill="#fff" stroke="#000" stroke-width="1.25" transform="rotate(-29.545682248025493 90.1 720.8)"/>
<ellipse cx="95.4" cy="717.8" rx="3.8" ry="8.2" fill="#fff" stroke="#000" stroke-width="1.25" transform="rotate(-29.545682248025493 95.4 717.8)"/>
<ellipse cx="100.8" cy="714.8" rx="3.8" ry="8.2" fill="#fff" stroke="#000" stroke-width="1.25" transform="rotate(-29.545682248025493 100.8 714.8)"/>
<ellipse cx="106.1" cy="711.8" rx="3.8" ry="8.2" fill="#fff" stroke="#000" stroke-width="1.25" transform="rotate(-29.545682248025493 106.1 711.8)"/>
<ellipse cx="111.4" cy="708.7" rx="3.8" ry="8.2" fill="#fff" stroke="#000" stroke-width="1.25" transform="rotate(-29.545682248025493 111.4 708.7)"/>
<ellipse cx="116.8" cy="705.7" rx="3.8" ry="8.2" fill="#fff" stroke="#000" stroke-width="1.25" transform="rotate(-29.545682248025493 116.8 705.7)"/>
<ellipse cx="122.1" cy="702.7" rx="3.8" ry="8.2" fill="#fff" stroke="#000" stroke-width="1.25" transform="rotate(-29.545682248025493 122.1 702.7)"/>
<ellipse cx="127.4" cy="699.7" rx="3.8" ry="8.2" fill="#fff" stroke="#000" stroke-width="1.25" transform="rotate(-29.545682248025493 127.4 699.7)"/>
<ellipse cx="132.8" cy="696.7" rx="3.8" ry="8.2" fill="#fff" stroke="#000" stroke-width="1.25" transform="rotate(-29.545682248025493 132.8 696.7)"/>
<ellipse cx="138.1" cy="693.6" rx="3.8" ry="8.2" fill="#fff" stroke="#000" stroke-width="1.25" transform="rotate(-29.545682248025493 138.1 693.6)"/>
<ellipse cx="143.4" cy="690.6" rx="3.8" ry="8.2" fill="#fff" stroke="#000" stroke-width="1.25" transform="rotate(-29.545682248025493 143.4 690.6)"/>
<path d="M56.3 726.0 L68.7 726.1 L74.6 736.5 L68.3 747.2 Z" fill="#fff" stroke="#000" stroke-width="1.0" />
<ellipse cx="62.3" cy="736.6" rx="8.3" ry="12.2" fill="#fff" stroke="#000" stroke-width="1.0" transform="rotate(-29.545682248025493 62.3 736.6)"/>
<ellipse cx="61.9" cy="736.8" rx="4.2" ry="6.1" fill="none" stroke="#000" stroke-width="1.0" transform="rotate(-29.545682248025493 61.9 736.8)"/>
<ellipse cx="61.9" cy="736.8" rx="2.3" ry="3.7" fill="none" stroke="#000" stroke-width="1.0" transform="rotate(-29.545682248025493 61.9 736.8)"/>
<path d="M483.6 1307.6 L498.0 1307.6 L498.0 1324.6 L483.6 1324.6 Z" fill="#fff" stroke="#000" stroke-width="1.0" />
<ellipse cx="491.5" cy="1326.5" rx="12.4" ry="5.5" fill="#fff" stroke="#000" stroke-width="1.0"/>
<ellipse cx="491.1" cy="1323.9" rx="7.4" ry="2.6" fill="#fff" stroke="#000" stroke-width="1.0"/>
<path d="M483.6 1323.9 L483.6 1305.0 L498.3 1305.0 L498.3 1323.9 Z" fill="#fff" stroke="#000" stroke-width="1.0" />
<path d="M483.6 1323.9 L498.3 1323.9" fill="none" stroke="#fff" stroke-width="1.2" />
<path d="M483.6 1323.9 C484.9 1324.3 488.6 1325.9 491.1 1325.9 C493.5 1325.9 497.1 1324.3 498.3 1323.9" fill="none" stroke="#000" stroke-width="1.0"/>
<path d="M482.6 1233.1 L499.6 1233.1 L499.6 1305.6 L482.6 1305.6 Z" fill="#fff" stroke="#000" stroke-width="1.0" />
<ellipse cx="491.1" cy="1235.7" rx="8.8" ry="2.9" fill="#fff" stroke="#000" stroke-width="1.3"/>
<ellipse cx="491.1" cy="1242.5" rx="8.8" ry="2.9" fill="#fff" stroke="#000" stroke-width="1.3"/>
<ellipse cx="491.1" cy="1249.3" rx="8.8" ry="2.9" fill="#fff" stroke="#000" stroke-width="1.3"/>
<ellipse cx="491.1" cy="1256.1" rx="8.8" ry="2.9" fill="#fff" stroke="#000" stroke-width="1.3"/>
<ellipse cx="491.1" cy="1262.9" rx="8.8" ry="2.9" fill="#fff" stroke="#000" stroke-width="1.3"/>
<ellipse cx="491.1" cy="1269.7" rx="8.8" ry="2.9" fill="#fff" stroke="#000" stroke-width="1.3"/>
<ellipse cx="491.1" cy="1276.5" rx="8.8" ry="2.9" fill="#fff" stroke="#000" stroke-width="1.3"/>
<ellipse cx="491.1" cy="1283.3" rx="8.8" ry="2.9" fill="#fff" stroke="#000" stroke-width="1.3"/>
<ellipse cx="491.1" cy="1290.1" rx="8.8" ry="2.9" fill="#fff" stroke="#000" stroke-width="1.3"/>
<ellipse cx="491.1" cy="1296.9" rx="8.8" ry="2.9" fill="#fff" stroke="#000" stroke-width="1.3"/>
<ellipse cx="491.1" cy="1303.7" rx="8.8" ry="2.9" fill="#fff" stroke="#000" stroke-width="1.3"/>
<path d="M485.2 1229.2 L485.2 1233.1 L497.0 1233.1 L497.0 1229.2 Z" fill="#fff" stroke="#000" stroke-width="1.0" />
<ellipse cx="491.1" cy="1232.5" rx="6.0" ry="2.1" fill="#fff" stroke="#000" stroke-width="1.0"/>
<ellipse cx="491.1" cy="1228.2" rx="6.0" ry="2.9" fill="#fff" stroke="#000" stroke-width="1.0"/>
<path d="M1070.0 676.3 L1085.2 667.2 L1089.8 668.1 L1093.8 674.7 L1092.4 679.2 L1077.1 688.3 Z" fill="#fff" stroke="#000" stroke-width="1.0" />
<ellipse cx="1074.8" cy="681.5" rx="5.6" ry="9.0" fill="#fff" stroke="#000" stroke-width="1.0" transform="rotate(-30.891686407174202 1074.8 681.5)"/>
<ellipse cx="1073.1" cy="682.6" rx="5.6" ry="9.0" fill="#fff" stroke="#000" stroke-width="1.0" transform="rotate(-30.891686407174202 1073.1 682.6)"/>
<path d="M1053.5 687.0 L1068.6 677.9 L1075.1 688.8 L1059.9 697.8 Z" fill="#fff" stroke="#000" stroke-width="1.0" />
<path d="M1068.6 677.9 L1075.1 688.8" fill="none" stroke="#fff" stroke-width="1.4" />
<ellipse cx="1056.7" cy="692.4" rx="4.5" ry="6.3" fill="#fff" stroke="#000" stroke-width="1.0" transform="rotate(-30.891686407174202 1056.7 692.4)"/>
<ellipse cx="1057.4" cy="692.0" rx="3.7" ry="5.2" fill="none" stroke="#000" stroke-width="1.0" transform="rotate(-30.891686407174202 1057.4 692.0)"/>
<path d="M1069.4 440.5 C1071.2 437.0 1074.7 432.6 1078.8 430.5 C1083.0 428.5 1088.8 428.5 1094.4 428.1 C1099.9 427.7 1106.9 427.0 1112.1 428.3 C1117.3 429.6 1121.7 431.1 1125.4 436.1 C1129.1 441.1 1131.7 448.8 1134.3 458.2 C1136.9 467.7 1139.5 482.3 1140.9 492.6 C1142.3 503.0 1143.1 512.6 1142.6 520.3 C1142.0 528.1 1140.5 533.3 1137.6 539.2 C1134.7 545.1 1130.8 550.8 1125.4 555.8 C1120.0 560.8 1112.5 565.1 1105.4 569.1 C1098.4 573.2 1088.6 578.7 1083.3 580.2 C1077.9 581.7 1075.6 579.7 1073.3 578.0 C1071.0 576.3 1069.9 577.1 1069.4 570.2 C1068.9 563.4 1069.9 547.5 1070.5 537.0 C1071.2 526.4 1073.2 517.0 1073.3 507.0 C1073.4 497.1 1071.9 486.3 1071.1 477.1 C1070.2 467.9 1068.6 457.7 1068.3 451.6 C1068.0 445.5 1067.6 444.0 1069.4 440.5 Z" fill="none" stroke="#000" stroke-width="1.0"/>
<ellipse cx="1107.5" cy="440.4" rx="3.4" ry="6.8" fill="#fff" stroke="#000" stroke-width="1.0" transform="rotate(-27.925170288365994 1107.5 440.4)"/>
<path d="M1086.0 444.2 L1104.3 434.5 L1110.6 446.4 L1092.3 456.1 Z" fill="#fff" stroke="#000" stroke-width="1.0" />
<path d="M1104.4 434.7 L1110.5 446.1" fill="none" stroke="#fff" stroke-width="1.6" />
<path d="M1101.8 435.8 A3.4 6.8 -27.9 0 0 1108.1 447.7" fill="none" stroke="#000" stroke-width="1.5"/>
<path d="M1098.2 437.7 A3.4 6.8 -27.9 0 0 1104.5 449.6" fill="none" stroke="#000" stroke-width="1.5"/>
<path d="M1094.5 439.6 A3.4 6.8 -27.9 0 0 1100.9 451.6" fill="none" stroke="#000" stroke-width="1.5"/>
<path d="M1090.9 441.5 A3.4 6.8 -27.9 0 0 1097.3 453.5" fill="none" stroke="#000" stroke-width="1.5"/>
<path d="M1074.0 445.9 L1086.0 444.2 L1092.3 456.1 L1084.1 465.0 Z" fill="#fff" stroke="#000" stroke-width="1.0" />
<path d="M1086.1 444.5 L1092.1 455.8" fill="none" stroke="#fff" stroke-width="1.6" />
<ellipse cx="1079.1" cy="455.5" rx="7.6" ry="10.8" fill="#fff" stroke="#000" stroke-width="1.0" transform="rotate(-27.925170288365994 1079.1 455.5)"/>
<ellipse cx="1078.5" cy="455.8" rx="4.2" ry="6.5" fill="none" stroke="#000" stroke-width="1.0" transform="rotate(-27.925170288365994 1078.5 455.8)"/>
<path d="M1075.9 451.0 L1082.2 459.9" fill="none" stroke="#000" stroke-width="1.3" />
<path d="M1081.1 452.0 L1077.0 459.0" fill="none" stroke="#000" stroke-width="1.3" />
<ellipse cx="1107.5" cy="550.2" rx="3.4" ry="6.8" fill="#fff" stroke="#000" stroke-width="1.0" transform="rotate(-27.925170288365994 1107.5 550.2)"/>
<path d="M1086.0 554.0 L1104.3 544.2 L1110.6 556.2 L1092.3 565.9 Z" fill="#fff" stroke="#000" stroke-width="1.0" />
<path d="M1104.4 544.5 L1110.5 555.9" fill="none" stroke="#fff" stroke-width="1.6" />
<path d="M1101.8 545.6 A3.4 6.8 -27.9 0 0 1108.1 557.5" fill="none" stroke="#000" stroke-width="1.5"/>
<path d="M1098.2 547.5 A3.4 6.8 -27.9 0 0 1104.5 559.4" fill="none" stroke="#000" stroke-width="1.5"/>
<path d="M1094.5 549.4 A3.4 6.8 -27.9 0 0 1100.9 561.3" fill="none" stroke="#000" stroke-width="1.5"/>
<path d="M1090.9 551.3 A3.4 6.8 -27.9 0 0 1097.3 563.2" fill="none" stroke="#000" stroke-width="1.5"/>
<path d="M1074.0 555.7 L1086.0 554.0 L1092.3 565.9 L1084.1 574.8 Z" fill="#fff" stroke="#000" stroke-width="1.0" />
<path d="M1086.1 554.3 L1092.1 565.6" fill="none" stroke="#fff" stroke-width="1.6" />
<ellipse cx="1079.1" cy="565.3" rx="7.6" ry="10.8" fill="#fff" stroke="#000" stroke-width="1.0" transform="rotate(-27.925170288365994 1079.1 565.3)"/>
<ellipse cx="1078.5" cy="565.5" rx="4.2" ry="6.5" fill="none" stroke="#000" stroke-width="1.0" transform="rotate(-27.925170288365994 1078.5 565.5)"/>
<path d="M1075.9 560.8 L1082.2 569.7" fill="none" stroke="#000" stroke-width="1.3" />
<path d="M1081.1 561.7 L1077.0 568.8" fill="none" stroke="#000" stroke-width="1.3" />
<path d="M1098.2 468.8 L1103.2 466.9 L1121.0 477.7 L1121.0 492.6 L1132.6 502.6 L1132.6 509.3 L1126.5 512.6 L1126.5 520.3 L1121.0 521.5 L1121.0 530.9 L1117.6 535.3 L1098.2 522.0 L1098.2 512.6 L1086.6 500.4 L1085.5 490.4 L1092.1 486.5 L1092.1 481.5 L1098.2 480.4 Z" fill="#fff" stroke="#000" stroke-width="1.0" />
<path d="M1085.5 490.4 L1127.6 511.5" fill="none" stroke="#000" stroke-width="1.0" />
<path d="M1087.7 488.2 L1132.6 509.3" fill="none" stroke="#000" stroke-width="1.0" />
<path d="M1103.2 466.9 L1102.1 470.4 L1118.8 481.0 L1118.8 492.6 L1132.6 504.8" fill="none" stroke="#000" stroke-width="0.9" />
<ellipse cx="1107.7" cy="482.6" rx="2.0" ry="4.7" fill="none" stroke="#000" stroke-width="1.0" transform="rotate(-15 1107.7 482.6)"/>
<ellipse cx="1107.7" cy="519.8" rx="2.0" ry="4.7" fill="none" stroke="#000" stroke-width="1.0" transform="rotate(-15 1107.7 519.8)"/>
<ellipse cx="1110.7" cy="510.1" rx="1.3" ry="1.8" fill="none" stroke="#000" stroke-width="1.0"/>
<ellipse cx="1092.7" cy="510.1" rx="3.3" ry="3.5" fill="none" stroke="#000" stroke-width="1.4"/>
<ellipse cx="1092.7" cy="510.1" rx="1.8" ry="2.0" fill="none" stroke="#000" stroke-width="1.0"/>
<path d="M1096.0 507.0 L1101.6 502.6 L1104.9 504.8 L1098.8 510.4 Z" fill="#fff" stroke="#000" stroke-width="1.0" />
<path d="M1119.3 514.8 L1132.6 524.2" fill="none" stroke="#000" stroke-width="2.0" />
<path d="M1121.0 513.1 L1134.3 525.3" fill="none" stroke="#000" stroke-width="1.0" />
<path d="M1069.4 748.1 C1071.2 744.6 1074.7 740.2 1078.8 738.1 C1083.0 736.1 1088.8 736.1 1094.4 735.7 C1099.9 735.3 1106.9 734.6 1112.1 735.9 C1117.3 737.2 1121.7 738.7 1125.4 743.7 C1129.1 748.7 1131.7 756.4 1134.3 765.8 C1136.9 775.3 1139.5 789.9 1140.9 800.2 C1142.3 810.6 1143.1 820.2 1142.6 827.9 C1142.0 835.7 1140.5 840.9 1137.6 846.8 C1134.7 852.7 1130.8 858.4 1125.4 863.4 C1120.0 868.4 1112.5 872.7 1105.4 876.7 C1098.4 880.8 1088.6 886.3 1083.3 887.8 C1077.9 889.3 1075.6 887.3 1073.3 885.6 C1071.0 883.9 1069.9 884.7 1069.4 877.8 C1068.9 871.0 1069.9 855.1 1070.5 844.6 C1071.2 834.0 1073.2 824.6 1073.3 814.6 C1073.4 804.7 1071.9 793.9 1071.1 784.7 C1070.2 775.5 1068.6 765.3 1068.3 759.2 C1068.0 753.1 1067.6 751.6 1069.4 748.1 Z" fill="none" stroke="#000" stroke-width="1.0"/>
<ellipse cx="1107.5" cy="748.0" rx="3.4" ry="6.8" fill="#fff" stroke="#000" stroke-width="1.0" transform="rotate(-27.925170288365994 1107.5 748.0)"/>
<path d="M1086.0 751.8 L1104.3 742.1 L1110.6 754.0 L1092.3 763.7 Z" fill="#fff" stroke="#000" stroke-width="1.0" />
<path d="M1104.4 742.3 L1110.5 753.7" fill="none" stroke="#fff" stroke-width="1.6" />
<path d="M1101.8 743.4 A3.4 6.8 -27.9 0 0 1108.1 755.3" fill="none" stroke="#000" stroke-width="1.5"/>
<path d="M1098.2 745.3 A3.4 6.8 -27.9 0 0 1104.5 757.2" fill="none" stroke="#000" stroke-width="1.5"/>
<path d="M1094.5 747.2 A3.4 6.8 -27.9 0 0 1100.9 759.2" fill="none" stroke="#000" stroke-width="1.5"/>
<path d="M1090.9 749.1 A3.4 6.8 -27.9 0 0 1097.3 761.1" fill="none" stroke="#000" stroke-width="1.5"/>
<path d="M1074.0 753.5 L1086.0 751.8 L1092.3 763.7 L1084.1 772.6 Z" fill="#fff" stroke="#000" stroke-width="1.0" />
<path d="M1086.1 752.1 L1092.1 763.4" fill="none" stroke="#fff" stroke-width="1.6" />
<ellipse cx="1079.1" cy="763.1" rx="7.6" ry="10.8" fill="#fff" stroke="#000" stroke-width="1.0" transform="rotate(-27.925170288365994 1079.1 763.1)"/>
<ellipse cx="1078.5" cy="763.4" rx="4.2" ry="6.5" fill="none" stroke="#000" stroke-width="1.0" transform="rotate(-27.925170288365994 1078.5 763.4)"/>
<path d="M1075.9 758.6 L1082.2 767.5" fill="none" stroke="#000" stroke-width="1.3" />
<path d="M1081.1 759.6 L1077.0 766.6" fill="none" stroke="#000" stroke-width="1.3" />
<ellipse cx="1107.5" cy="857.8" rx="3.4" ry="6.8" fill="#fff" stroke="#000" stroke-width="1.0" transform="rotate(-27.925170288365994 1107.5 857.8)"/>
<path d="M1086.0 861.6 L1104.3 851.8 L1110.6 863.8 L1092.3 873.5 Z" fill="#fff" stroke="#000" stroke-width="1.0" />
<path d="M1104.4 852.1 L1110.5 863.5" fill="none" stroke="#fff" stroke-width="1.6" />
<path d="M1101.8 853.2 A3.4 6.8 -27.9 0 0 1108.1 865.1" fill="none" stroke="#000" stroke-width="1.5"/>
<path d="M1098.2 855.1 A3.4 6.8 -27.9 0 0 1104.5 867.0" fill="none" stroke="#000" stroke-width="1.5"/>
<path d="M1094.5 857.0 A3.4 6.8 -27.9 0 0 1100.9 868.9" fill="none" stroke="#000" stroke-width="1.5"/>
<path d="M1090.9 858.9 A3.4 6.8 -27.9 0 0 1097.3 870.8" fill="none" stroke="#000" stroke-width="1.5"/>
<path d="M1074.0 863.3 L1086.0 861.6 L1092.3 873.5 L1084.1 882.4 Z" fill="#fff" stroke="#000" stroke-width="1.0" />
<path d="M1086.1 861.9 L1092.1 873.2" fill="none" stroke="#fff" stroke-width="1.6" />
<ellipse cx="1079.1" cy="872.9" rx="7.6" ry="10.8" fill="#fff" stroke="#000" stroke-width="1.0" transform="rotate(-27.925170288365994 1079.1 872.9)"/>
<ellipse cx="1078.5" cy="873.1" rx="4.2" ry="6.5" fill="none" stroke="#000" stroke-width="1.0" transform="rotate(-27.925170288365994 1078.5 873.1)"/>
<path d="M1075.9 868.4 L1082.2 877.3" fill="none" stroke="#000" stroke-width="1.3" />
<path d="M1081.1 869.3 L1077.0 876.4" fill="none" stroke="#000" stroke-width="1.3" />
<path d="M1098.2 776.4 L1103.2 774.5 L1121.0 785.3 L1121.0 800.2 L1132.6 810.2 L1132.6 816.9 L1126.5 820.2 L1126.5 827.9 L1121.0 829.1 L1121.0 838.5 L1117.6 842.9 L1098.2 829.6 L1098.2 820.2 L1086.6 808.0 L1085.5 798.0 L1092.1 794.1 L1092.1 789.1 L1098.2 788.0 Z" fill="#fff" stroke="#000" stroke-width="1.0" />
<path d="M1085.5 798.0 L1127.6 819.1" fill="none" stroke="#000" stroke-width="1.0" />
<path d="M1087.7 795.8 L1132.6 816.9" fill="none" stroke="#000" stroke-width="1.0" />
<path d="M1103.2 774.5 L1102.1 778.0 L1118.8 788.6 L1118.8 800.2 L1132.6 812.4" fill="none" stroke="#000" stroke-width="0.9" />
<ellipse cx="1107.7" cy="790.2" rx="2.0" ry="4.7" fill="none" stroke="#000" stroke-width="1.0" transform="rotate(-15 1107.7 790.2)"/>
<ellipse cx="1107.7" cy="827.4" rx="2.0" ry="4.7" fill="none" stroke="#000" stroke-width="1.0" transform="rotate(-15 1107.7 827.4)"/>
<ellipse cx="1110.7" cy="817.7" rx="1.3" ry="1.8" fill="none" stroke="#000" stroke-width="1.0"/>
<ellipse cx="1092.7" cy="817.7" rx="3.3" ry="3.5" fill="none" stroke="#000" stroke-width="1.4"/>
<ellipse cx="1092.7" cy="817.7" rx="1.8" ry="2.0" fill="none" stroke="#000" stroke-width="1.0"/>
<path d="M1096.0 814.6 L1101.6 810.2 L1104.9 812.4 L1098.8 818.0 Z" fill="#fff" stroke="#000" stroke-width="1.0" />
<path d="M1119.3 822.4 L1132.6 831.8" fill="none" stroke="#000" stroke-width="2.0" />
<path d="M1121.0 820.7 L1134.3 832.9" fill="none" stroke="#000" stroke-width="1.0" />
<path d="M1240.6 557.1 L1242.9 555.3 L1264.6 567.3 L1262.3 568.7 Z" fill="#fff" stroke="#000" stroke-width="1.0" />
<path d="M1262.3 568.7 L1264.6 567.3 L1264.6 641.2 L1262.3 642.2 Z" fill="#fff" stroke="#000" stroke-width="1.0" />
<path d="M1265.1 581.2 L1272.5 584.9 L1272.5 607.0 L1265.1 610.7 Z" fill="#fff" stroke="#000" stroke-width="1.0" />
<path d="M1240.6 557.1 L1262.3 568.7 L1262.3 642.2 L1240.6 630.1 Z" fill="#fff" stroke="#000" stroke-width="1.0" />
<ellipse cx="1248.0" cy="569.1" rx="1.8" ry="3.0" fill="none" stroke="#000" stroke-width="1.0" transform="rotate(-25 1248.0 569.1)"/>
<ellipse cx="1248.0" cy="626.5" rx="1.8" ry="3.0" fill="none" stroke="#000" stroke-width="1.0" transform="rotate(-25 1248.0 626.5)"/>
<path d="M1241.0 584.9 L1258.6 593.6 L1258.6 614.4 L1241.0 604.3 Z" fill="#fff" stroke="#000" stroke-width="1.0" />
<path d="M1241.0 604.3 L1258.6 593.6" fill="none" stroke="#000" stroke-width="1.0" />
<path d="M1228.6 590.4 L1241.0 604.3" fill="none" stroke="#000" stroke-width="1.0" />
<path d="M1228.6 590.4 L1236.9 608.0 L1241.0 609.4" fill="none" stroke="#000" stroke-width="1.0" />
<path d="M1230.4 593.2 L1242.4 600.6 L1254.4 595.0" fill="none" stroke="#000" stroke-width="1.0" />
<path d="M1218.9 576.1 L1230.4 574.7 L1241.0 581.2 L1241.0 588.6 L1228.6 590.4 L1218.9 590.4 Z" fill="#fff" stroke="#000" stroke-width="1.0" />
<path d="M1228.1 570.5 L1233.2 572.8 L1240.1 568.2" fill="none" stroke="#000" stroke-width="1.0" />
<path d="M1166.2 541.4 L1172.6 537.7 L1228.6 570.5 L1216.1 576.1 Z" fill="#fff" stroke="#000" stroke-width="1.0" />
<path d="M1166.2 541.4 L1216.1 576.1 L1216.1 591.3 L1213.8 591.3 L1166.2 556.2 L1166.2 551.6 L1179.6 560.4 L1179.6 555.3 L1166.2 546.0 Z" fill="#fff" stroke="#000" stroke-width="1.0" />
<path d="M1216.1 576.1 L1218.9 576.1 L1218.9 591.3 L1216.1 591.3 Z" fill="#fff" stroke="#000" stroke-width="1.6" />
<ellipse cx="1194.4" cy="572.1" rx="4.2" ry="4.6" fill="none" stroke="#000" stroke-width="1.2"/>
<ellipse cx="1194.4" cy="572.1" rx="2.3" ry="2.6" fill="none" stroke="#000" stroke-width="1.0"/>
<path d="M1169.9 553.4 L1177.7 558.1" fill="none" stroke="#000" stroke-width="2.2" />
<ellipse cx="1210.5" cy="564.3" rx="0.7" ry="0.9" fill="none" stroke="#000" stroke-width="1.0"/>
<path d="M1231.1 538.4 L1243.7 531.6" fill="none" stroke="#111" stroke-width="5.6" stroke-linecap="butt"/>
<path d="M1243.2 531.8 L1246.2 530.2" fill="none" stroke="#111" stroke-width="2.6" />
<path d="M1232.6 537.6 L1243.2 531.8" fill="none" stroke="#aaa" stroke-width="1.2" stroke-dasharray="1.3 1.9"/>
<ellipse cx="1228.6" cy="539.8" rx="3.2" ry="5.0" fill="#fff" stroke="#000" stroke-width="1.3" transform="rotate(-28 1228.6 539.8)"/>
<ellipse cx="1228.9" cy="539.8" rx="1.4" ry="2.6" fill="none" stroke="#000" stroke-width="1.0" transform="rotate(-28 1228.9 539.8)"/>
<path d="M1231.1 654.2 L1243.7 646.8" fill="none" stroke="#111" stroke-width="5.6" stroke-linecap="butt"/>
<path d="M1243.2 647.0 L1246.2 645.4" fill="none" stroke="#111" stroke-width="2.6" />
<path d="M1232.6 653.4 L1243.2 647.0" fill="none" stroke="#aaa" stroke-width="1.2" stroke-dasharray="1.3 1.9"/>
<ellipse cx="1228.6" cy="655.6" rx="3.2" ry="5.0" fill="#fff" stroke="#000" stroke-width="1.3" transform="rotate(-28 1228.6 655.6)"/>
<ellipse cx="1228.9" cy="655.6" rx="1.4" ry="2.6" fill="none" stroke="#000" stroke-width="1.0" transform="rotate(-28 1228.9 655.6)"/>
<path d="M1240.6 862.7 L1242.9 860.9 L1264.6 872.9 L1262.3 874.3 Z" fill="#fff" stroke="#000" stroke-width="1.0" />
<path d="M1262.3 874.3 L1264.6 872.9 L1264.6 946.8 L1262.3 947.8 Z" fill="#fff" stroke="#000" stroke-width="1.0" />
<path d="M1265.1 886.8 L1272.5 890.5 L1272.5 912.6 L1265.1 916.3 Z" fill="#fff" stroke="#000" stroke-width="1.0" />
<path d="M1240.6 862.7 L1262.3 874.3 L1262.3 947.8 L1240.6 935.7 Z" fill="#fff" stroke="#000" stroke-width="1.0" />
<ellipse cx="1248.0" cy="874.7" rx="1.8" ry="3.0" fill="none" stroke="#000" stroke-width="1.0" transform="rotate(-25 1248.0 874.7)"/>
<ellipse cx="1248.0" cy="932.1" rx="1.8" ry="3.0" fill="none" stroke="#000" stroke-width="1.0" transform="rotate(-25 1248.0 932.1)"/>
<path d="M1241.0 890.5 L1258.6 899.2 L1258.6 920.0 L1241.0 909.9 Z" fill="#fff" stroke="#000" stroke-width="1.0" />
<path d="M1241.0 909.9 L1258.6 899.2" fill="none" stroke="#000" stroke-width="1.0" />
<path d="M1228.6 896.0 L1241.0 909.9" fill="none" stroke="#000" stroke-width="1.0" />
<path d="M1228.6 896.0 L1236.9 913.6 L1241.0 915.0" fill="none" stroke="#000" stroke-width="1.0" />
<path d="M1230.4 898.8 L1242.4 906.2 L1254.4 900.6" fill="none" stroke="#000" stroke-width="1.0" />
<path d="M1218.9 881.7 L1230.4 880.3 L1241.0 886.8 L1241.0 894.2 L1228.6 896.0 L1218.9 896.0 Z" fill="#fff" stroke="#000" stroke-width="1.0" />
<path d="M1228.1 876.1 L1233.2 878.4 L1240.1 873.8" fill="none" stroke="#000" stroke-width="1.0" />
<path d="M1166.2 847.0 L1172.6 843.3 L1228.6 876.1 L1216.1 881.7 Z" fill="#fff" stroke="#000" stroke-width="1.0" />
<path d="M1166.2 847.0 L1216.1 881.7 L1216.1 896.9 L1213.8 896.9 L1166.2 861.8 L1166.2 857.2 L1179.6 866.0 L1179.6 860.9 L1166.2 851.6 Z" fill="#fff" stroke="#000" stroke-width="1.0" />
<path d="M1216.1 881.7 L1218.9 881.7 L1218.9 896.9 L1216.1 896.9 Z" fill="#fff" stroke="#000" stroke-width="1.6" />
<ellipse cx="1194.4" cy="877.7" rx="4.2" ry="4.6" fill="none" stroke="#000" stroke-width="1.2"/>
<ellipse cx="1194.4" cy="877.7" rx="2.3" ry="2.6" fill="none" stroke="#000" stroke-width="1.0"/>
<path d="M1169.9 859.0 L1177.7 863.7" fill="none" stroke="#000" stroke-width="2.2" />
<ellipse cx="1210.5" cy="869.9" rx="0.7" ry="0.9" fill="none" stroke="#000" stroke-width="1.0"/>
<path d="M1231.1 844.0 L1243.7 837.2" fill="none" stroke="#111" stroke-width="5.6" stroke-linecap="butt"/>
<path d="M1243.2 837.4 L1246.2 835.8" fill="none" stroke="#111" stroke-width="2.6" />
<path d="M1232.6 843.2 L1243.2 837.4" fill="none" stroke="#aaa" stroke-width="1.2" stroke-dasharray="1.3 1.9"/>
<ellipse cx="1228.6" cy="845.4" rx="3.2" ry="5.0" fill="#fff" stroke="#000" stroke-width="1.3" transform="rotate(-28 1228.6 845.4)"/>
<ellipse cx="1228.9" cy="845.4" rx="1.4" ry="2.6" fill="none" stroke="#000" stroke-width="1.0" transform="rotate(-28 1228.9 845.4)"/>
<path d="M1231.1 959.8 L1243.7 952.4" fill="none" stroke="#111" stroke-width="5.6" stroke-linecap="butt"/>
<path d="M1243.2 952.6 L1246.2 951.0" fill="none" stroke="#111" stroke-width="2.6" />
<path d="M1232.6 959.0 L1243.2 952.6" fill="none" stroke="#aaa" stroke-width="1.2" stroke-dasharray="1.3 1.9"/>
<ellipse cx="1228.6" cy="961.2" rx="3.2" ry="5.0" fill="#fff" stroke="#000" stroke-width="1.3" transform="rotate(-28 1228.6 961.2)"/>
<ellipse cx="1228.9" cy="961.2" rx="1.4" ry="2.6" fill="none" stroke="#000" stroke-width="1.0" transform="rotate(-28 1228.9 961.2)"/>
<path d="M1568.8 657.3 C1570.4 657.6 1575.1 657.3 1578.5 659.3 C1581.9 661.3 1586.0 664.8 1589.3 669.3 C1592.6 673.8 1596.6 680.0 1598.5 686.2 C1600.5 692.4 1601.1 699.6 1600.8 706.2 C1600.6 712.9 1599.4 718.3 1597.0 726.3 C1594.6 734.2 1590.6 744.9 1586.2 754.0 C1581.8 763.1 1573.4 776.4 1570.8 780.9" fill="none" stroke="#000" stroke-width="1.0"/>
<path d="M1570.0 686.2 C1572.2 686.3 1579.3 685.7 1583.1 687.0 C1587.0 688.3 1590.7 690.2 1593.1 693.9 C1595.6 697.6 1597.6 702.9 1597.8 709.3 C1597.9 715.7 1596.1 724.7 1593.9 732.4 C1591.7 740.1 1588.1 748.1 1584.7 755.5 C1581.2 763.0 1575.0 773.5 1573.1 777.1" fill="none" stroke="#000" stroke-width="1.0"/>
<path d="M1584.7 687.8 C1585.5 690.1 1589.3 696.2 1589.6 701.6 C1589.9 707.0 1588.3 714.2 1586.2 720.1 C1584.1 726.0 1579.9 731.5 1577.0 737.0 C1574.0 742.6 1569.9 750.5 1568.5 753.2" fill="none" stroke="#000" stroke-width="1.0"/>
<path d="M1570.0 752.4 C1572.0 751.7 1578.1 750.4 1581.6 747.8 C1585.1 745.3 1588.5 741.2 1590.8 737.0 C1593.2 732.9 1594.9 725.5 1595.8 723.2" fill="none" stroke="#000" stroke-width="1.0"/>
<ellipse cx="1568.8" cy="671.6" rx="4.0" ry="14.6" fill="none" stroke="#000" stroke-width="1.0" transform="rotate(-5 1568.8 671.6)"/>
<ellipse cx="1568.8" cy="767.1" rx="4.0" ry="14.2" fill="none" stroke="#000" stroke-width="1.0" transform="rotate(-5 1568.8 767.1)"/>
<ellipse cx="1569.0" cy="670.0" rx="1.4" ry="2.2" fill="none" stroke="#000" stroke-width="1.0" transform="rotate(-15 1569.0 670.0)"/>
<ellipse cx="1569.0" cy="767.1" rx="1.4" ry="2.2" fill="none" stroke="#000" stroke-width="1.0" transform="rotate(-15 1569.0 767.1)"/>
<path d="M1570.7 851.2 L1578.4 846.6 L1581.2 851.4 L1573.5 855.9 Z" fill="#fff" stroke="#000" stroke-width="1.0" />
<path d="M1578.3 846.4 L1602.4 832.3 L1603.3 833.7 L1604.6 836.0 L1605.4 837.4 L1581.4 851.6 Z" fill="#fff" stroke="#000" stroke-width="1.0" />
<ellipse cx="1581.2" cy="848.2" rx="1.9" ry="3.8" fill="#fff" stroke="#000" stroke-width="1.25" transform="rotate(-30.411081267125372 1581.2 848.2)"/>
<ellipse cx="1583.8" cy="846.6" rx="1.9" ry="3.8" fill="#fff" stroke="#000" stroke-width="1.25" transform="rotate(-30.411081267125372 1583.8 846.6)"/>
<ellipse cx="1586.5" cy="845.1" rx="1.9" ry="3.8" fill="#fff" stroke="#000" stroke-width="1.25" transform="rotate(-30.411081267125372 1586.5 845.1)"/>
<ellipse cx="1589.2" cy="843.5" rx="1.9" ry="3.8" fill="#fff" stroke="#000" stroke-width="1.25" transform="rotate(-30.411081267125372 1589.2 843.5)"/>
<ellipse cx="1591.9" cy="841.9" rx="1.9" ry="3.8" fill="#fff" stroke="#000" stroke-width="1.25" transform="rotate(-30.411081267125372 1591.9 841.9)"/>
<ellipse cx="1594.6" cy="840.4" rx="1.9" ry="3.8" fill="#fff" stroke="#000" stroke-width="1.25" transform="rotate(-30.411081267125372 1594.6 840.4)"/>
<ellipse cx="1597.2" cy="838.8" rx="1.9" ry="3.8" fill="#fff" stroke="#000" stroke-width="1.25" transform="rotate(-30.411081267125372 1597.2 838.8)"/>
<ellipse cx="1599.9" cy="837.2" rx="1.9" ry="3.8" fill="#fff" stroke="#000" stroke-width="1.25" transform="rotate(-30.411081267125372 1599.9 837.2)"/>
<ellipse cx="1602.6" cy="835.6" rx="1.9" ry="3.8" fill="#fff" stroke="#000" stroke-width="1.25" transform="rotate(-30.411081267125372 1602.6 835.6)"/>
<path d="M1563.2 846.6 L1575.0 848.7 L1577.7 853.4 L1573.8 864.7 Z" fill="#fff" stroke="#000" stroke-width="1.0" />
<ellipse cx="1568.5" cy="855.7" rx="7.0" ry="10.5" fill="#fff" stroke="#000" stroke-width="1.0" transform="rotate(-30.411081267125372 1568.5 855.7)"/>
<ellipse cx="1567.5" cy="855.7" rx="4.2" ry="7.5" fill="none" stroke="#000" stroke-width="1.3" transform="rotate(-30 1567.5 855.7)"/>
<path d="M1565.5 849.7 L1570.0 862.7 L1572.5 854.7 L1565.5 849.7" fill="none" stroke="#000" stroke-width="1.2" />
<ellipse cx="1622.4" cy="824.1" rx="13.6" ry="18.2" fill="#fff" stroke="#000" stroke-width="1.0" transform="rotate(-25 1622.4 824.1)"/>
<ellipse cx="1620.4" cy="823.0" rx="13.6" ry="18.2" fill="#fff" stroke="#000" stroke-width="1.0" transform="rotate(-25 1620.4 823.0)"/>
<ellipse cx="1620.4" cy="823.0" rx="6.8" ry="11.1" fill="none" stroke="#000" stroke-width="1.0" transform="rotate(-25 1620.4 823.0)"/>
<ellipse cx="1621.3" cy="823.6" rx="4.0" ry="8.0" fill="none" stroke="#000" stroke-width="1.0" transform="rotate(-25 1621.3 823.6)"/>
<path d="M504.4 1519.8 C504.4 1523.9 502.7 1538.6 504.4 1544.2 C506.1 1549.8 509.0 1551.4 514.4 1553.6 C519.7 1555.9 529.2 1557.8 536.6 1557.7 C544.0 1557.6 553.4 1555.3 558.8 1553.1 C564.1 1550.8 567.1 1549.8 568.7 1544.2 C570.4 1538.7 568.7 1523.9 568.7 1519.8" fill="#fff" stroke="#000" stroke-width="1.0"/>
<ellipse cx="536.6" cy="1519.8" rx="32.2" ry="14.6" fill="#fff" stroke="#000" stroke-width="1.0"/>
<path d="M512.7 1530.9 L512.7 1550.9" fill="none" stroke="#000" stroke-width="1.0" />
<path d="M515.5 1530.9 L515.5 1552.0" fill="none" stroke="#000" stroke-width="1.0" />
<path d="M534.3 1535.3 L534.3 1555.3" fill="none" stroke="#000" stroke-width="1.0" />
<path d="M538.2 1535.3 L538.2 1556.4" fill="none" stroke="#000" stroke-width="1.0" />
<path d="M558.2 1530.9 L558.2 1550.9" fill="none" stroke="#000" stroke-width="1.0" />
<path d="M560.4 1530.9 L560.4 1552.0" fill="none" stroke="#000" stroke-width="1.0" />
<path d="M506.6 1526.5 C508.8 1527.7 514.9 1532.5 519.9 1534.2 C524.9 1535.9 531.0 1536.7 536.6 1536.7 C542.1 1536.7 548.2 1535.9 553.2 1534.2 C558.2 1532.5 564.3 1527.7 566.5 1526.5" fill="none" stroke="#000" stroke-width="1.0"/>
<path d="M516.0 1473.2 L558.2 1473.2 L558.2 1519.8 L516.0 1519.8 Z" fill="#fff" stroke="#000" stroke-width="1.0" />
<path d="M516.3 1519.8 L558.0 1519.8" fill="none" stroke="#fff" stroke-width="1.6" />
<path d="M516.0 1519.8 C517.1 1521.1 518.7 1525.8 522.1 1527.6 C525.6 1529.3 531.7 1530.3 536.6 1530.3 C541.5 1530.3 547.9 1529.3 551.5 1527.6 C555.1 1525.8 557.1 1521.1 558.2 1519.8" fill="#fff" stroke="#000" stroke-width="1.0"/>
<path d="M516.6 1519.6 L557.6 1519.6" fill="none" stroke="#fff" stroke-width="2.2" />
<path d="M505.3 1448.8 C505.3 1451.6 503.4 1461.3 505.3 1465.4 C507.2 1469.6 512.9 1472.6 516.6 1473.8 C520.3 1475.0 524.5 1473.4 527.7 1472.6 C530.9 1471.9 533.3 1469.3 536.0 1469.3 C538.7 1469.3 540.7 1471.9 543.8 1472.6 C546.8 1473.4 550.3 1475.0 554.3 1473.8 C558.3 1472.6 565.4 1469.6 567.6 1465.4 C569.8 1461.3 567.6 1451.6 567.6 1448.8" fill="#fff" stroke="#000" stroke-width="1.0"/>
<path d="M518.3 1456.6 L518.3 1473.2" fill="none" stroke="#000" stroke-width="1.0" />
<path d="M528.2 1456.6 L528.2 1473.2" fill="none" stroke="#000" stroke-width="1.0" />
<path d="M543.2 1456.6 L543.2 1473.2" fill="none" stroke="#000" stroke-width="1.0" />
<path d="M552.6 1456.6 L552.6 1473.2" fill="none" stroke="#000" stroke-width="1.0" />
<path d="M505.5 1452.1 L505.5 1465.4" fill="none" stroke="#000" stroke-width="2.0" />
<path d="M567.6 1452.1 L567.6 1465.4" fill="none" stroke="#000" stroke-width="2.0" />
<ellipse cx="536.0" cy="1432.7" rx="41.6" ry="24.6" fill="#fff" stroke="#000" stroke-width="1.0"/>
<ellipse cx="536.0" cy="1431.6" rx="41.6" ry="24.6" fill="#fff" stroke="#000" stroke-width="1.0"/>
<ellipse cx="504.4" cy="1431.6" rx="3.3" ry="2.0" fill="none" stroke="#000" stroke-width="1.0"/>
<ellipse cx="568.2" cy="1431.6" rx="3.3" ry="2.0" fill="none" stroke="#000" stroke-width="1.0"/>
<ellipse cx="536.2" cy="1413.3" rx="3.3" ry="2.0" fill="none" stroke="#000" stroke-width="1.0"/>
<ellipse cx="536.2" cy="1450.5" rx="3.3" ry="2.0" fill="none" stroke="#000" stroke-width="1.0"/>
<path d="M530.5 1420.5 L541.9 1420.5 L541.9 1432.7 L530.5 1432.7 Z" fill="#fff" stroke="#000" stroke-width="1.0" />
<path d="M530.5 1432.7 C531.4 1433.1 534.3 1434.9 536.2 1434.9 C538.1 1434.9 540.9 1433.1 541.9 1432.7" fill="#fff" stroke="#000" stroke-width="1.0"/>
<path d="M530.8 1432.7 L541.6 1432.7" fill="none" stroke="#fff" stroke-width="1.5" />
<ellipse cx="536.2" cy="1420.5" rx="5.7" ry="2.8" fill="#fff" stroke="#000" stroke-width="1.0"/>
<path d="M1785.5 1805.5 C1785.5 1809.6 1783.8 1824.3 1785.5 1829.9 C1787.2 1835.5 1790.1 1837.1 1795.5 1839.3 C1800.8 1841.6 1810.3 1843.5 1817.7 1843.4 C1825.1 1843.3 1834.5 1841.0 1839.9 1838.8 C1845.2 1836.5 1848.2 1835.5 1849.8 1829.9 C1851.5 1824.4 1849.8 1809.6 1849.8 1805.5" fill="#fff" stroke="#000" stroke-width="1.0"/>
<ellipse cx="1817.7" cy="1805.5" rx="32.2" ry="14.6" fill="#fff" stroke="#000" stroke-width="1.0"/>
<path d="M1793.8 1816.6 L1793.8 1836.6" fill="none" stroke="#000" stroke-width="1.0" />
<path d="M1796.6 1816.6 L1796.6 1837.7" fill="none" stroke="#000" stroke-width="1.0" />
<path d="M1815.4 1821.0 L1815.4 1841.0" fill="none" stroke="#000" stroke-width="1.0" />
<path d="M1819.3 1821.0 L1819.3 1842.1" fill="none" stroke="#000" stroke-width="1.0" />
<path d="M1839.3 1816.6 L1839.3 1836.6" fill="none" stroke="#000" stroke-width="1.0" />
<path d="M1841.5 1816.6 L1841.5 1837.7" fill="none" stroke="#000" stroke-width="1.0" />
<path d="M1787.7 1812.2 C1789.9 1813.4 1796.0 1818.2 1801.0 1819.9 C1806.0 1821.6 1812.1 1822.4 1817.7 1822.4 C1823.2 1822.4 1829.3 1821.6 1834.3 1819.9 C1839.3 1818.2 1845.4 1813.4 1847.6 1812.2" fill="none" stroke="#000" stroke-width="1.0"/>
<path d="M1797.1 1758.9 L1839.3 1758.9 L1839.3 1805.5 L1797.1 1805.5 Z" fill="#fff" stroke="#000" stroke-width="1.0" />
<path d="M1797.4 1805.5 L1839.1 1805.5" fill="none" stroke="#fff" stroke-width="1.6" />
<path d="M1797.1 1805.5 C1798.2 1806.8 1799.8 1811.5 1803.2 1813.3 C1806.7 1815.0 1812.8 1816.0 1817.7 1816.0 C1822.6 1816.0 1829.0 1815.0 1832.6 1813.3 C1836.2 1811.5 1838.2 1806.8 1839.3 1805.5" fill="#fff" stroke="#000" stroke-width="1.0"/>
<path d="M1797.7 1805.3 L1838.7 1805.3" fill="none" stroke="#fff" stroke-width="2.2" />
<path d="M1786.4 1734.5 C1786.4 1737.3 1784.5 1747.0 1786.4 1751.1 C1788.3 1755.3 1794.0 1758.3 1797.7 1759.5 C1801.4 1760.7 1805.6 1759.1 1808.8 1758.3 C1812.0 1757.6 1814.4 1755.0 1817.1 1755.0 C1819.8 1755.0 1821.8 1757.6 1824.9 1758.3 C1827.9 1759.1 1831.4 1760.7 1835.4 1759.5 C1839.4 1758.3 1846.5 1755.3 1848.7 1751.1 C1850.9 1747.0 1848.7 1737.3 1848.7 1734.5" fill="#fff" stroke="#000" stroke-width="1.0"/>
<path d="M1799.4 1742.3 L1799.4 1758.9" fill="none" stroke="#000" stroke-width="1.0" />
<path d="M1809.3 1742.3 L1809.3 1758.9" fill="none" stroke="#000" stroke-width="1.0" />
<path d="M1824.3 1742.3 L1824.3 1758.9" fill="none" stroke="#000" stroke-width="1.0" />
<path d="M1833.7 1742.3 L1833.7 1758.9" fill="none" stroke="#000" stroke-width="1.0" />
<path d="M1786.6 1737.8 L1786.6 1751.1" fill="none" stroke="#000" stroke-width="2.0" />
<path d="M1848.7 1737.8 L1848.7 1751.1" fill="none" stroke="#000" stroke-width="2.0" />
<ellipse cx="1817.1" cy="1718.4" rx="41.6" ry="24.6" fill="#fff" stroke="#000" stroke-width="1.0"/>
<ellipse cx="1817.1" cy="1717.3" rx="41.6" ry="24.6" fill="#fff" stroke="#000" stroke-width="1.0"/>
<ellipse cx="1785.5" cy="1717.3" rx="3.3" ry="2.0" fill="none" stroke="#000" stroke-width="1.0"/>
<ellipse cx="1849.3" cy="1717.3" rx="3.3" ry="2.0" fill="none" stroke="#000" stroke-width="1.0"/>
<ellipse cx="1817.3" cy="1699.0" rx="3.3" ry="2.0" fill="none" stroke="#000" stroke-width="1.0"/>
<ellipse cx="1817.3" cy="1736.2" rx="3.3" ry="2.0" fill="none" stroke="#000" stroke-width="1.0"/>
<path d="M1811.6 1706.2 L1823.0 1706.2 L1823.0 1718.4 L1811.6 1718.4 Z" fill="#fff" stroke="#000" stroke-width="1.0" />
<path d="M1811.6 1718.4 C1812.5 1718.8 1815.4 1720.6 1817.3 1720.6 C1819.2 1720.6 1822.0 1718.8 1823.0 1718.4" fill="#fff" stroke="#000" stroke-width="1.0"/>
<path d="M1811.9 1718.4 L1822.7 1718.4" fill="none" stroke="#fff" stroke-width="1.5" />
<ellipse cx="1817.3" cy="1706.2" rx="5.7" ry="2.8" fill="#fff" stroke="#000" stroke-width="1.0"/>
<path d="M712.3 1110.4 C712.3 1112.3 711.5 1119.4 712.3 1122.1 C713.1 1124.8 714.5 1125.5 717.1 1126.6 C719.6 1127.7 724.1 1128.6 727.7 1128.5 C731.2 1128.5 735.7 1127.4 738.3 1126.3 C740.8 1125.2 742.3 1124.7 743.1 1122.1 C743.9 1119.4 743.1 1112.3 743.1 1110.4" fill="#fff" stroke="#000" stroke-width="0.9"/>
<ellipse cx="727.7" cy="1110.4" rx="15.4" ry="7.0" fill="#fff" stroke="#000" stroke-width="0.9"/>
<path d="M716.3 1115.7 L716.3 1125.3" fill="none" stroke="#000" stroke-width="0.9" />
<path d="M717.6 1115.7 L717.6 1125.8" fill="none" stroke="#000" stroke-width="0.9" />
<path d="M726.6 1117.8 L726.6 1127.4" fill="none" stroke="#000" stroke-width="0.9" />
<path d="M728.5 1117.8 L728.5 1127.9" fill="none" stroke="#000" stroke-width="0.9" />
<path d="M738.0 1115.7 L738.0 1125.3" fill="none" stroke="#000" stroke-width="0.9" />
<path d="M739.1 1115.7 L739.1 1125.8" fill="none" stroke="#000" stroke-width="0.9" />
<path d="M713.3 1113.6 C714.4 1114.2 717.3 1116.5 719.7 1117.3 C722.1 1118.1 725.0 1118.5 727.7 1118.5 C730.3 1118.5 733.2 1118.1 735.6 1117.3 C738.0 1116.5 740.9 1114.2 742.0 1113.6" fill="none" stroke="#000" stroke-width="0.9"/>
<path d="M717.9 1088.1 L738.0 1088.1 L738.0 1110.4 L717.9 1110.4 Z" fill="#fff" stroke="#000" stroke-width="0.9" />
<path d="M718.0 1110.4 L737.9 1110.4" fill="none" stroke="#fff" stroke-width="0.96" />
<path d="M717.9 1110.4 C718.3 1111.0 719.1 1113.3 720.8 1114.1 C722.4 1114.9 725.3 1115.4 727.7 1115.4 C730.0 1115.4 733.1 1114.9 734.8 1114.1 C736.6 1113.3 737.5 1111.0 738.0 1110.4" fill="#fff" stroke="#000" stroke-width="0.9"/>
<path d="M718.1 1110.3 L737.8 1110.3" fill="none" stroke="#fff" stroke-width="1.32" />
<path d="M712.7 1076.4 C712.7 1077.8 711.8 1082.4 712.7 1084.4 C713.6 1086.4 716.3 1087.8 718.1 1088.4 C719.9 1088.9 721.9 1088.2 723.4 1087.8 C725.0 1087.5 726.1 1086.2 727.4 1086.2 C728.7 1086.2 729.7 1087.5 731.1 1087.8 C732.6 1088.2 734.3 1088.9 736.2 1088.4 C738.1 1087.8 741.5 1086.4 742.5 1084.4 C743.6 1082.4 742.5 1077.8 742.5 1076.4" fill="#fff" stroke="#000" stroke-width="0.9"/>
<path d="M718.9 1080.1 L718.9 1088.1" fill="none" stroke="#000" stroke-width="0.9" />
<path d="M723.7 1080.1 L723.7 1088.1" fill="none" stroke="#000" stroke-width="0.9" />
<path d="M730.9 1080.1 L730.9 1088.1" fill="none" stroke="#000" stroke-width="0.9" />
<path d="M735.4 1080.1 L735.4 1088.1" fill="none" stroke="#000" stroke-width="0.9" />
<path d="M712.8 1078.0 L712.8 1084.4" fill="none" stroke="#000" stroke-width="1.2" />
<path d="M742.5 1078.0 L742.5 1084.4" fill="none" stroke="#000" stroke-width="1.2" />
<ellipse cx="727.4" cy="1068.7" rx="19.9" ry="11.8" fill="#fff" stroke="#000" stroke-width="0.9"/>
<ellipse cx="727.4" cy="1068.2" rx="19.9" ry="11.8" fill="#fff" stroke="#000" stroke-width="0.9"/>
<ellipse cx="712.3" cy="1068.2" rx="1.6" ry="1.0" fill="none" stroke="#000" stroke-width="0.9"/>
<ellipse cx="742.8" cy="1068.2" rx="1.6" ry="1.0" fill="none" stroke="#000" stroke-width="0.9"/>
<ellipse cx="727.5" cy="1059.4" rx="1.6" ry="1.0" fill="none" stroke="#000" stroke-width="0.9"/>
<ellipse cx="727.5" cy="1077.2" rx="1.6" ry="1.0" fill="none" stroke="#000" stroke-width="0.9"/>
<path d="M724.8 1062.9 L730.2 1062.9 L730.2 1068.7 L724.8 1068.7 Z" fill="#fff" stroke="#000" stroke-width="0.9" />
<path d="M724.8 1068.7 C725.2 1068.9 726.6 1069.8 727.5 1069.8 C728.4 1069.8 729.8 1068.9 730.2 1068.7" fill="#fff" stroke="#000" stroke-width="0.9"/>
<path d="M724.9 1068.7 L730.1 1068.7" fill="none" stroke="#fff" stroke-width="0.8999999999999999" />
<ellipse cx="727.5" cy="1062.9" rx="2.7" ry="1.3" fill="#fff" stroke="#000" stroke-width="0.9"/>
<path d="M969.9 962.8 C969.9 964.7 969.1 971.8 969.9 974.5 C970.7 977.2 972.1 977.9 974.7 979.0 C977.2 980.1 981.7 981.0 985.3 980.9 C988.8 980.9 993.3 979.8 995.9 978.7 C998.4 977.6 999.9 977.1 1000.7 974.5 C1001.5 971.8 1000.7 964.7 1000.7 962.8" fill="#fff" stroke="#000" stroke-width="0.9"/>
<ellipse cx="985.3" cy="962.8" rx="15.4" ry="7.0" fill="#fff" stroke="#000" stroke-width="0.9"/>
<path d="M973.9 968.1 L973.9 977.7" fill="none" stroke="#000" stroke-width="0.9" />
<path d="M975.2 968.1 L975.2 978.2" fill="none" stroke="#000" stroke-width="0.9" />
<path d="M984.2 970.2 L984.2 979.8" fill="none" stroke="#000" stroke-width="0.9" />
<path d="M986.1 970.2 L986.1 980.3" fill="none" stroke="#000" stroke-width="0.9" />
<path d="M995.6 968.1 L995.6 977.7" fill="none" stroke="#000" stroke-width="0.9" />
<path d="M996.7 968.1 L996.7 978.2" fill="none" stroke="#000" stroke-width="0.9" />
<path d="M970.9 966.0 C972.0 966.6 974.9 968.9 977.3 969.7 C979.7 970.5 982.6 970.9 985.3 970.9 C987.9 970.9 990.8 970.5 993.2 969.7 C995.6 968.9 998.5 966.6 999.6 966.0" fill="none" stroke="#000" stroke-width="0.9"/>
<path d="M975.5 940.5 L995.6 940.5 L995.6 962.8 L975.5 962.8 Z" fill="#fff" stroke="#000" stroke-width="0.9" />
<path d="M975.6 962.8 L995.5 962.8" fill="none" stroke="#fff" stroke-width="0.96" />
<path d="M975.5 962.8 C975.9 963.4 976.7 965.7 978.4 966.5 C980.0 967.3 982.9 967.8 985.3 967.8 C987.6 967.8 990.7 967.3 992.4 966.5 C994.2 965.7 995.1 963.4 995.6 962.8" fill="#fff" stroke="#000" stroke-width="0.9"/>
<path d="M975.7 962.7 L995.4 962.7" fill="none" stroke="#fff" stroke-width="1.32" />
<path d="M970.3 928.8 C970.3 930.2 969.4 934.8 970.3 936.8 C971.2 938.8 973.9 940.2 975.7 940.8 C977.5 941.3 979.5 940.6 981.0 940.2 C982.6 939.9 983.7 938.6 985.0 938.6 C986.3 938.6 987.3 939.9 988.7 940.2 C990.2 940.6 991.9 941.3 993.8 940.8 C995.7 940.2 999.1 938.8 1000.1 936.8 C1001.2 934.8 1000.1 930.2 1000.1 928.8" fill="#fff" stroke="#000" stroke-width="0.9"/>
<path d="M976.5 932.5 L976.5 940.5" fill="none" stroke="#000" stroke-width="0.9" />
<path d="M981.3 932.5 L981.3 940.5" fill="none" stroke="#000" stroke-width="0.9" />
<path d="M988.5 932.5 L988.5 940.5" fill="none" stroke="#000" stroke-width="0.9" />
<path d="M993.0 932.5 L993.0 940.5" fill="none" stroke="#000" stroke-width="0.9" />
<path d="M970.4 930.4 L970.4 936.8" fill="none" stroke="#000" stroke-width="1.2" />
<path d="M1000.1 930.4 L1000.1 936.8" fill="none" stroke="#000" stroke-width="1.2" />
<ellipse cx="985.0" cy="921.1" rx="19.9" ry="11.8" fill="#fff" stroke="#000" stroke-width="0.9"/>
<ellipse cx="985.0" cy="920.6" rx="19.9" ry="11.8" fill="#fff" stroke="#000" stroke-width="0.9"/>
<ellipse cx="969.9" cy="920.6" rx="1.6" ry="1.0" fill="none" stroke="#000" stroke-width="0.9"/>
<ellipse cx="1000.4" cy="920.6" rx="1.6" ry="1.0" fill="none" stroke="#000" stroke-width="0.9"/>
<ellipse cx="985.1" cy="911.8" rx="1.6" ry="1.0" fill="none" stroke="#000" stroke-width="0.9"/>
<ellipse cx="985.1" cy="929.6" rx="1.6" ry="1.0" fill="none" stroke="#000" stroke-width="0.9"/>
<path d="M982.4 915.3 L987.8 915.3 L987.8 921.1 L982.4 921.1 Z" fill="#fff" stroke="#000" stroke-width="0.9" />
<path d="M982.4 921.1 C982.8 921.3 984.2 922.2 985.1 922.2 C986.0 922.2 987.4 921.3 987.8 921.1" fill="#fff" stroke="#000" stroke-width="0.9"/>
<path d="M982.5 921.1 L987.7 921.1" fill="none" stroke="#fff" stroke-width="0.8999999999999999" />
<ellipse cx="985.1" cy="915.3" rx="2.7" ry="1.3" fill="#fff" stroke="#000" stroke-width="0.9"/>
<path d="M1900.4 1767.8 L1900.4 1748.7 L1902.9 1748.7 L1902.9 1752.9 L1918.6 1755.3 L1921.9 1755.3" fill="none" stroke="#000" stroke-width="1.0" />
<path d="M1902.9 1752.9 L1902.9 1767.8" fill="none" stroke="#000" stroke-width="1.0" />
<path d="M1908.7 1767.8 L1921.9 1755.3 L1937.6 1752.0 L1946.7 1757.8 L1916.1 1774.4 Z" fill="#fff" stroke="#000" stroke-width="1.0" />
<path d="M1947.6 1771.9 L1958.3 1766.1 L1960.0 1779.3 L1948.4 1785.1 Z" fill="#fff" stroke="#000" stroke-width="1.0" />
<path d="M1916.1 1774.4 L1946.7 1757.8 L1946.7 1815.8 L1918.6 1830.6 Z" fill="#fff" stroke="#000" stroke-width="1.0" />
<path d="M1913.6 1775.7 L1916.1 1774.4 L1918.6 1830.6 L1916.1 1829.3 Z" fill="#fff" stroke="#000" stroke-width="1.0" />
<path d="M1923.6 1790.9 L1942.6 1780.2 L1942.6 1791.8 L1923.6 1801.7 Z" fill="#fff" stroke="#000" stroke-width="1.0" />
<path d="M1925.2 1792.6 L1940.9 1783.8 L1940.9 1790.9" fill="none" stroke="#000" stroke-width="1.0" />
<ellipse cx="1933.2" cy="1772.7" rx="1.5" ry="2.2" fill="none" stroke="#000" stroke-width="1.0"/>
<ellipse cx="1933.2" cy="1815.8" rx="1.5" ry="2.2" fill="none" stroke="#000" stroke-width="1.0"/>
<path d="M1867.3 1767.8 L1881.4 1767.3 L1881.4 1771.1" fill="none" stroke="#000" stroke-width="1.0" />
<path d="M1867.3 1767.8 L1867.3 1780.2 L1875.6 1780.2" fill="none" stroke="#000" stroke-width="1.0" />
<path d="M1881.4 1771.1 C1882.2 1772.0 1883.6 1775.3 1886.3 1776.9 C1889.1 1778.4 1893.2 1779.8 1897.9 1780.2 C1902.6 1780.6 1911.7 1779.5 1914.5 1779.3" fill="none" stroke="#000" stroke-width="1.0"/>
<path d="M1875.6 1780.2 C1876.5 1781.5 1878.5 1786.2 1881.4 1788.4 C1884.3 1790.6 1888.8 1792.4 1892.9 1793.4 C1897.1 1794.4 1904.0 1794.1 1906.2 1794.2" fill="none" stroke="#000" stroke-width="1.0"/>
<path d="M1881.4 1767.3 C1882.5 1768.4 1884.9 1772.6 1888.0 1774.4 C1891.0 1776.1 1895.3 1777.3 1899.6 1777.7 C1903.8 1778.1 1911.3 1777.0 1913.6 1776.9" fill="none" stroke="#000" stroke-width="1.0"/>
<path d="M1906.2 1794.2 L1906.2 1788.4 L1914.5 1784.3" fill="none" stroke="#000" stroke-width="1.0" />
<path d="M1900.4 1799.2 L1914.5 1792.6 L1914.5 1805.8 L1902.9 1812.4 L1900.4 1811.6 Z" fill="#fff" stroke="#000" stroke-width="1.0" />
<path d="M1908.7 1822.4 L1913.6 1814.1" fill="none" stroke="#000" stroke-width="1.0" />
<path d="M1908.7 1822.4 L1908.7 1825.7 L1918.6 1830.6" fill="none" stroke="#000" stroke-width="1.0" />
<path d="M670.8 1154.8 L670.8 1145.6 L672.0 1145.6 L672.0 1147.6 L679.6 1148.8 L681.2 1148.8" fill="none" stroke="#000" stroke-width="0.9" />
<path d="M672.0 1147.6 L672.0 1154.8" fill="none" stroke="#000" stroke-width="0.9" />
<path d="M674.8 1154.8 L681.2 1148.8 L688.9 1147.2 L693.3 1150.0 L678.4 1158.0 Z" fill="#fff" stroke="#000" stroke-width="0.9" />
<path d="M693.7 1156.8 L698.9 1154.0 L699.7 1160.4 L694.1 1163.2 Z" fill="#fff" stroke="#000" stroke-width="0.9" />
<path d="M678.4 1158.0 L693.3 1150.0 L693.3 1178.1 L679.6 1185.3 Z" fill="#fff" stroke="#000" stroke-width="0.9" />
<path d="M677.2 1158.7 L678.4 1158.0 L679.6 1185.3 L678.4 1184.7 Z" fill="#fff" stroke="#000" stroke-width="0.9" />
<path d="M682.0 1166.0 L691.3 1160.8 L691.3 1166.5 L682.0 1171.3 Z" fill="#fff" stroke="#000" stroke-width="0.9" />
<path d="M682.8 1166.9 L690.5 1162.6 L690.5 1166.0" fill="none" stroke="#000" stroke-width="0.9" />
<ellipse cx="686.7" cy="1157.2" rx="0.7" ry="1.0" fill="none" stroke="#000" stroke-width="0.9"/>
<ellipse cx="686.7" cy="1178.1" rx="0.7" ry="1.0" fill="none" stroke="#000" stroke-width="0.9"/>
<path d="M654.7 1154.8 L661.6 1154.6 L661.6 1156.4" fill="none" stroke="#000" stroke-width="0.9" />
<path d="M654.7 1154.8 L654.7 1160.8 L658.7 1160.8" fill="none" stroke="#000" stroke-width="0.9" />
<path d="M661.6 1156.4 C662.0 1156.9 662.6 1158.5 664.0 1159.2 C665.3 1160.0 667.3 1160.6 669.6 1160.8 C671.9 1161.0 676.3 1160.5 677.6 1160.4" fill="none" stroke="#000" stroke-width="0.9"/>
<path d="M658.7 1160.8 C659.2 1161.5 660.1 1163.8 661.6 1164.8 C663.0 1165.9 665.2 1166.8 667.2 1167.3 C669.2 1167.7 672.5 1167.6 673.6 1167.7" fill="none" stroke="#000" stroke-width="0.9"/>
<path d="M661.6 1154.6 C662.1 1155.1 663.3 1157.2 664.8 1158.0 C666.2 1158.9 668.3 1159.4 670.4 1159.6 C672.5 1159.8 676.1 1159.3 677.2 1159.2" fill="none" stroke="#000" stroke-width="0.9"/>
<path d="M673.6 1167.7 L673.6 1164.8 L677.6 1162.8" fill="none" stroke="#000" stroke-width="0.9" />
<path d="M670.8 1170.1 L677.6 1166.9 L677.6 1173.3 L672.0 1176.5 L670.8 1176.1 Z" fill="#fff" stroke="#000" stroke-width="0.9" />
<path d="M674.8 1181.3 L677.2 1177.3" fill="none" stroke="#000" stroke-width="0.9" />
<path d="M674.8 1181.3 L674.8 1182.9 L679.6 1185.3" fill="none" stroke="#000" stroke-width="0.9" />
<path d="M1038.7 942.0 L1038.7 932.8 L1039.9 932.8 L1039.9 934.8 L1047.5 936.0 L1049.1 936.0" fill="none" stroke="#000" stroke-width="0.9" />
<path d="M1039.9 934.8 L1039.9 942.0" fill="none" stroke="#000" stroke-width="0.9" />
<path d="M1042.7 942.0 L1049.1 936.0 L1056.8 934.4 L1061.2 937.2 L1046.3 945.2 Z" fill="#fff" stroke="#000" stroke-width="0.9" />
<path d="M1061.6 944.0 L1066.8 941.2 L1067.6 947.6 L1062.0 950.4 Z" fill="#fff" stroke="#000" stroke-width="0.9" />
<path d="M1046.3 945.2 L1061.2 937.2 L1061.2 965.3 L1047.5 972.5 Z" fill="#fff" stroke="#000" stroke-width="0.9" />
<path d="M1045.1 945.9 L1046.3 945.2 L1047.5 972.5 L1046.3 971.9 Z" fill="#fff" stroke="#000" stroke-width="0.9" />
<path d="M1049.9 953.2 L1059.2 948.0 L1059.2 953.7 L1049.9 958.5 Z" fill="#fff" stroke="#000" stroke-width="0.9" />
<path d="M1050.7 954.1 L1058.4 949.8 L1058.4 953.2" fill="none" stroke="#000" stroke-width="0.9" />
<ellipse cx="1054.6" cy="944.4" rx="0.7" ry="1.0" fill="none" stroke="#000" stroke-width="0.9"/>
<ellipse cx="1054.6" cy="965.3" rx="0.7" ry="1.0" fill="none" stroke="#000" stroke-width="0.9"/>
<path d="M1022.6 942.0 L1029.5 941.8 L1029.5 943.6" fill="none" stroke="#000" stroke-width="0.9" />
<path d="M1022.6 942.0 L1022.6 948.0 L1026.6 948.0" fill="none" stroke="#000" stroke-width="0.9" />
<path d="M1029.5 943.6 C1029.9 944.1 1030.5 945.7 1031.9 946.4 C1033.2 947.2 1035.2 947.8 1037.5 948.0 C1039.8 948.2 1044.2 947.7 1045.5 947.6" fill="none" stroke="#000" stroke-width="0.9"/>
<path d="M1026.6 948.0 C1027.1 948.7 1028.0 951.0 1029.5 952.0 C1030.9 953.1 1033.1 954.0 1035.1 954.5 C1037.1 954.9 1040.4 954.8 1041.5 954.9" fill="none" stroke="#000" stroke-width="0.9"/>
<path d="M1029.5 941.8 C1030.0 942.3 1031.2 944.4 1032.7 945.2 C1034.1 946.1 1036.2 946.6 1038.3 946.8 C1040.4 947.0 1044.0 946.5 1045.1 946.4" fill="none" stroke="#000" stroke-width="0.9"/>
<path d="M1041.5 954.9 L1041.5 952.0 L1045.5 950.0" fill="none" stroke="#000" stroke-width="0.9" />
<path d="M1038.7 957.3 L1045.5 954.1 L1045.5 960.5 L1039.9 963.7 L1038.7 963.3 Z" fill="#fff" stroke="#000" stroke-width="0.9" />
<path d="M1042.7 968.5 L1045.1 964.5" fill="none" stroke="#000" stroke-width="0.9" />
<path d="M1042.7 968.5 L1042.7 970.1 L1047.5 972.5" fill="none" stroke="#000" stroke-width="0.9" />
<path d="M689.4 1087.0 L689.4 1070.5" fill="none" stroke="#111" stroke-width="4.5" />
<path d="M689.4 1070.5 L689.4 1067.5" fill="none" stroke="#111" stroke-width="2.0" />
<ellipse cx="689.4" cy="1087.0" rx="3.4" ry="2.0" fill="#fff" stroke="#000" stroke-width="0.9"/>
<path d="M756.4 1069.7 L756.4 1053.5" fill="none" stroke="#111" stroke-width="4.5" />
<path d="M756.4 1053.5 L756.4 1050.5" fill="none" stroke="#111" stroke-width="2.0" />
<ellipse cx="756.4" cy="1069.7" rx="3.4" ry="2.0" fill="#fff" stroke="#000" stroke-width="0.9"/>
<path d="M673.5 1123.7 L689.0 1133.0" fill="none" stroke="#111" stroke-width="4.5" />
<path d="M689.0 1133.0 L691.6 1134.5" fill="none" stroke="#111" stroke-width="2.0" />
<ellipse cx="673.5" cy="1123.7" rx="3.4" ry="2.0" fill="#fff" stroke="#000" stroke-width="0.9" transform="rotate(120.9637565320734 673.5 1123.7)"/>
<path d="M644.8 1178.0 L660.5 1187.4" fill="none" stroke="#111" stroke-width="4.5" />
<path d="M660.5 1187.4 L663.1 1188.9" fill="none" stroke="#111" stroke-width="2.0" />
<ellipse cx="644.8" cy="1178.0" rx="3.4" ry="2.0" fill="#fff" stroke="#000" stroke-width="0.9" transform="rotate(120.91005853513114 644.8 1178.0)"/>
<path d="M196.1 1814.2 L209.2 1826.4 L240.1 1808.6 L240.1 1794.6 L209.2 1812.3 Z" fill="#fff" stroke="#000" stroke-width="1.0" />
<path d="M209.2 1812.3 L209.2 1826.4" fill="none" stroke="#000" stroke-width="1.0" />
<path d="M144.2 1805.8 L144.2 1810.5 L178.8 1829.2 L178.8 1824.5 Z" fill="#fff" stroke="#000" stroke-width="1.0" />
<path d="M178.8 1824.5 L282.2 1764.6 L282.2 1769.3 L178.8 1829.2 Z" fill="#fff" stroke="#000" stroke-width="1.0" />
<path d="M144.2 1805.8 L246.6 1744.6 L282.2 1764.6 L178.8 1824.5 Z" fill="#fff" stroke="#000" stroke-width="1.0" />
<ellipse cx="166.1" cy="1804.5" rx="5.6" ry="3.4" fill="none" stroke="#000" stroke-width="1.0"/>
<ellipse cx="248.1" cy="1757.1" rx="5.6" ry="3.4" fill="none" stroke="#000" stroke-width="1.0"/>
<path d="M186.3 1758.4 L210.1 1765.9 L210.1 1792.7 L188.6 1780.9 Z" fill="#fff" stroke="#000" stroke-width="1.0" />
<path d="M210.1 1765.9 L239.1 1782.4 L210.1 1798.9 L210.1 1792.7 Z" fill="#fff" stroke="#000" stroke-width="1.0" />
<path d="M186.3 1758.4 L199.8 1757.3 L214.8 1760.8 L210.1 1765.9" fill="none" stroke="#000" stroke-width="1.0" />
<path d="M188.6 1780.9 L210.1 1798.9" fill="none" stroke="#000" stroke-width="1.0" />
<path d="M179.2 1759.0 L186.3 1758.4" fill="none" stroke="#000" stroke-width="1.0" />
<path d="M179.2 1759.0 L188.6 1780.9" fill="none" stroke="#000" stroke-width="1.0" />
<path d="M152.1 1757.1 L172.7 1743.1 L189.5 1777.7 L184.8 1783.3 L162.4 1793.2 L158.6 1773.0 Z" fill="#fff" stroke="#000" stroke-width="1.0" />
<path d="M152.1 1757.1 L162.4 1773.0 L184.8 1783.3" fill="none" stroke="#000" stroke-width="1.0" />
<path d="M158.6 1773.0 L158.6 1789.9 L162.4 1793.2" fill="none" stroke="#000" stroke-width="1.0" />
<ellipse cx="190.4" cy="1778.6" rx="1.7" ry="2.6" fill="none" stroke="#000" stroke-width="1.0"/>
<path d="M60.3 1713.1 L82.8 1700.0 L172.7 1741.2 L151.1 1754.3 Z" fill="#fff" stroke="#000" stroke-width="1.0" />
<path d="M60.3 1713.1 L151.1 1754.3 L152.1 1774.0 L62.2 1725.3 Z" fill="#fff" stroke="#000" stroke-width="1.0" />
<path d="M151.1 1754.3 L172.7 1741.2 L173.6 1745.3 L152.1 1758.4 Z" fill="#fff" stroke="#000" stroke-width="1.0" />
<path d="M76.2 1703.7 L80.0 1715.9 L90.3 1718.7 L98.7 1713.1" fill="none" stroke="#000" stroke-width="1.0" />
<path d="M78.1 1704.7 L96.8 1713.1" fill="none" stroke="#000" stroke-width="2.6" />
<ellipse cx="127.3" cy="1725.3" rx="8.1" ry="7.1" fill="none" stroke="#000" stroke-width="1.0"/>
<ellipse cx="127.3" cy="1724.3" rx="5.6" ry="4.7" fill="none" stroke="#000" stroke-width="1.0"/>
<path d="M122.1 1721.5 L132.4 1728.4" fill="none" stroke="#000" stroke-width="1.0" />
<path d="M122.7 1728.4 L132.4 1721.5" fill="none" stroke="#000" stroke-width="1.0" />
<path d="M305.6 1735.6 L311.2 1729.0 L335.6 1715.0 L342.1 1717.8 L344.9 1722.5 L344.9 1739.3 L364.6 1729.0 L366.5 1730.9 L366.5 1739.3 L376.8 1744.6 L376.8 1767.4 L359.0 1778.6 L344.0 1787.1 L344.0 1806.7 L338.4 1812.3 L312.2 1825.4 L306.6 1822.6 L305.6 1804.9 L309.4 1802.0 L309.4 1780.5 L300.9 1776.8 L300.0 1770.2 L295.7 1767.4 L295.7 1765.5 L302.8 1761.8 L305.6 1756.2 Z" fill="#fff" stroke="#000" stroke-width="1.0" />
<path d="M300.0 1770.2 L375.8 1741.2" fill="none" stroke="#000" stroke-width="1.0" />
<path d="M301.9 1776.8 L376.8 1748.7" fill="none" stroke="#000" stroke-width="1.0" />
<path d="M309.4 1802.0 L344.0 1787.1" fill="none" stroke="#000" stroke-width="1.0" />
<path d="M311.2 1729.0 L311.2 1756.2 L305.6 1759.9" fill="none" stroke="#000" stroke-width="0.9" />
<path d="M312.2 1825.4 L311.2 1804.9" fill="none" stroke="#000" stroke-width="0.9" />
<ellipse cx="328.1" cy="1742.7" rx="4.1" ry="9.4" fill="none" stroke="#000" stroke-width="1.0" transform="rotate(8 328.1 1742.7)"/>
<ellipse cx="328.1" cy="1802.0" rx="4.1" ry="9.0" fill="none" stroke="#000" stroke-width="1.0" transform="rotate(8 328.1 1802.0)"/>
<ellipse cx="351.5" cy="1767.4" rx="2.6" ry="3.7" fill="none" stroke="#000" stroke-width="1.0" transform="rotate(30 351.5 1767.4)"/>
<path d="M364.6 1760.8 L375.8 1757.1" fill="none" stroke="#000" stroke-width="2.4" />
<path d="M334.6 1776.8 L339.3 1773.0 L349.6 1779.6 L344.9 1784.3 Z" fill="#fff" stroke="#000" stroke-width="1.0" />
<ellipse cx="351.5" cy="1786.1" rx="6.7" ry="7.9" fill="#fff" stroke="#000" stroke-width="1.3"/>
<ellipse cx="351.9" cy="1786.1" rx="4.5" ry="5.6" fill="none" stroke="#000" stroke-width="1.0"/>
<path d="M347.8 1786.1 L356.2 1786.1" fill="none" stroke="#000" stroke-width="1.0" />
<path d="M351.9 1780.9 L351.9 1791.4" fill="none" stroke="#000" stroke-width="1.0" />
<path d="M295.7 1802.6 L309.4 1797.4" fill="none" stroke="#000" stroke-width="1.0" />
<path d="M295.7 1802.6 L300.9 1804.9 L309.4 1802.0" fill="none" stroke="#000" stroke-width="1.0" />
<path d="M299.1 1797.4 L300.9 1804.9" fill="none" stroke="#000" stroke-width="1.6" />
<ellipse cx="414.1" cy="1744.6" rx="4.4" ry="8.8" fill="#fff" stroke="#000" stroke-width="1.0" transform="rotate(-145.0975043840753 414.1 1744.6)"/>
<path d="M434.1 1769.2 L409.1 1751.8 L419.1 1737.4 L444.1 1754.9 Z" fill="#fff" stroke="#000" stroke-width="1.0" />
<path d="M409.3 1751.5 L418.9 1737.7" fill="none" stroke="#fff" stroke-width="1.6" />
<path d="M412.3 1754.1 A4.4 8.8 -145.1 0 0 422.3 1739.7" fill="none" stroke="#000" stroke-width="1.5"/>
<path d="M416.9 1757.3 A4.4 8.8 -145.1 0 0 427.0 1742.9" fill="none" stroke="#000" stroke-width="1.5"/>
<path d="M421.6 1760.5 A4.4 8.8 -145.1 0 0 431.6 1746.2" fill="none" stroke="#000" stroke-width="1.5"/>
<path d="M426.2 1763.7 A4.4 8.8 -145.1 0 0 436.2 1749.4" fill="none" stroke="#000" stroke-width="1.5"/>
<path d="M443.0 1781.3 L434.1 1769.2 L444.1 1754.9 L458.5 1759.1 Z" fill="#fff" stroke="#000" stroke-width="1.0" />
<path d="M434.3 1768.9 L443.8 1755.2" fill="none" stroke="#fff" stroke-width="1.6" />
<ellipse cx="450.7" cy="1770.2" rx="9.5" ry="13.5" fill="#fff" stroke="#000" stroke-width="1.0" transform="rotate(-145.0975043840753 450.7 1770.2)"/>
<ellipse cx="451.2" cy="1770.5" rx="5.2" ry="8.1" fill="none" stroke="#000" stroke-width="1.0" transform="rotate(-145.0975043840753 451.2 1770.5)"/>
<path d="M447.6 1776.2 L453.9 1764.2" fill="none" stroke="#000" stroke-width="1.3" />
<path d="M445.7 1770.0 L455.8 1770.4" fill="none" stroke="#000" stroke-width="1.3" />
<path d="M530.9 1757.1 L547.2 1757.1 L547.2 1792.7 L539.3 1798.7 L530.9 1792.7 Z" fill="#fff" stroke="#000" stroke-width="1.0" />
<path d="M530.3 1760.8 L547.7 1759.0" fill="none" stroke="#000" stroke-width="1.8" />
<path d="M530.3 1764.8 L547.7 1762.9" fill="none" stroke="#000" stroke-width="1.8" />
<path d="M530.3 1768.7 L547.7 1766.8" fill="none" stroke="#000" stroke-width="1.8" />
<path d="M530.3 1772.6 L547.7 1770.8" fill="none" stroke="#000" stroke-width="1.8" />
<path d="M530.3 1776.6 L547.7 1774.7" fill="none" stroke="#000" stroke-width="1.8" />
<path d="M530.3 1780.5 L547.7 1778.6" fill="none" stroke="#000" stroke-width="1.8" />
<path d="M530.3 1784.4 L547.7 1782.6" fill="none" stroke="#000" stroke-width="1.8" />
<path d="M530.3 1788.4 L547.7 1786.5" fill="none" stroke="#000" stroke-width="1.8" />
<path d="M530.3 1792.3 L547.7 1790.4" fill="none" stroke="#000" stroke-width="1.8" />
<path d="M527.1 1751.5 L531.8 1759.0 L546.8 1759.0 L551.8 1751.5 Z" fill="#fff" stroke="#000" stroke-width="1.0" />
<ellipse cx="539.3" cy="1750.5" rx="12.4" ry="7.1" fill="#fff" stroke="#000" stroke-width="1.0"/>
<path d="M533.7 1747.7 L544.9 1753.9" fill="none" stroke="#000" stroke-width="1.2" />
<path d="M533.7 1753.9 L544.9 1747.7" fill="none" stroke="#000" stroke-width="1.2" />
<path d="M605.2 1798.2 L628.1 1785.1 L634.8 1796.8 L611.9 1809.9 Z" fill="#fff" stroke="#000" stroke-width="1.0" />
<path d="M627.9 1784.7 L692.1 1748.0 L694.1 1751.6 L697.3 1757.0 L699.3 1760.6 L635.0 1797.2 Z" fill="#fff" stroke="#000" stroke-width="1.0" />
<ellipse cx="634.1" cy="1789.5" rx="3.8" ry="9.0" fill="#fff" stroke="#000" stroke-width="1.25" transform="rotate(-29.71798818485333 634.1 1789.5)"/>
<ellipse cx="639.5" cy="1786.4" rx="3.8" ry="9.0" fill="#fff" stroke="#000" stroke-width="1.25" transform="rotate(-29.71798818485333 639.5 1786.4)"/>
<ellipse cx="644.8" cy="1783.3" rx="3.8" ry="9.0" fill="#fff" stroke="#000" stroke-width="1.25" transform="rotate(-29.71798818485333 644.8 1783.3)"/>
<ellipse cx="650.2" cy="1780.3" rx="3.8" ry="9.0" fill="#fff" stroke="#000" stroke-width="1.25" transform="rotate(-29.71798818485333 650.2 1780.3)"/>
<ellipse cx="655.5" cy="1777.2" rx="3.8" ry="9.0" fill="#fff" stroke="#000" stroke-width="1.25" transform="rotate(-29.71798818485333 655.5 1777.2)"/>
<ellipse cx="660.9" cy="1774.2" rx="3.8" ry="9.0" fill="#fff" stroke="#000" stroke-width="1.25" transform="rotate(-29.71798818485333 660.9 1774.2)"/>
<ellipse cx="666.2" cy="1771.1" rx="3.8" ry="9.0" fill="#fff" stroke="#000" stroke-width="1.25" transform="rotate(-29.71798818485333 666.2 1771.1)"/>
<ellipse cx="671.6" cy="1768.1" rx="3.8" ry="9.0" fill="#fff" stroke="#000" stroke-width="1.25" transform="rotate(-29.71798818485333 671.6 1768.1)"/>
<ellipse cx="677.0" cy="1765.0" rx="3.8" ry="9.0" fill="#fff" stroke="#000" stroke-width="1.25" transform="rotate(-29.71798818485333 677.0 1765.0)"/>
<ellipse cx="682.3" cy="1761.9" rx="3.8" ry="9.0" fill="#fff" stroke="#000" stroke-width="1.25" transform="rotate(-29.71798818485333 682.3 1761.9)"/>
<ellipse cx="687.7" cy="1758.9" rx="3.8" ry="9.0" fill="#fff" stroke="#000" stroke-width="1.25" transform="rotate(-29.71798818485333 687.7 1758.9)"/>
<ellipse cx="693.0" cy="1755.8" rx="3.8" ry="9.0" fill="#fff" stroke="#000" stroke-width="1.25" transform="rotate(-29.71798818485333 693.0 1755.8)"/>
<path d="M597.8 1795.9 L610.7 1795.0 L617.4 1806.8 L610.0 1817.5 Z" fill="#fff" stroke="#000" stroke-width="1.0" />
<ellipse cx="603.9" cy="1806.7" rx="9.0" ry="12.4" fill="#fff" stroke="#000" stroke-width="1.0" transform="rotate(-29.71798818485333 603.9 1806.7)"/>
<ellipse cx="603.5" cy="1806.9" rx="4.5" ry="6.2" fill="none" stroke="#000" stroke-width="1.0" transform="rotate(-29.71798818485333 603.5 1806.9)"/>
<ellipse cx="603.5" cy="1806.9" rx="2.5" ry="3.7" fill="none" stroke="#000" stroke-width="1.0" transform="rotate(-29.71798818485333 603.5 1806.9)"/>
<path d="M762.1 1770.2 L765.9 1768.3 L771.5 1774.9 L771.1 1778.6 L766.8 1782.4 Z" fill="#fff" stroke="#000" stroke-width="1.0" />
<ellipse cx="753.7" cy="1781.8" rx="13.5" ry="19.7" fill="#fff" stroke="#000" stroke-width="1.0" transform="rotate(-22 753.7 1781.8)"/>
<path d="M839.7 1750.2 L846.2 1744.0 L905.2 1709.7 L910.8 1713.1 L911.8 1720.6 L863.1 1749.6 L955.8 1803.4 L957.6 1807.7 L955.8 1814.2 L950.1 1816.1 L843.4 1754.3 Z" fill="#fff" stroke="#000" stroke-width="1.0" />
<path d="M854.6 1744.9 L909.0 1715.0" fill="none" stroke="#000" stroke-width="1.0" />
<path d="M854.6 1744.9 L953.9 1804.9" fill="none" stroke="#000" stroke-width="1.0" />
<path d="M846.2 1744.0 L854.6 1744.9" fill="none" stroke="#000" stroke-width="1.0" />
<path d="M841.5 1752.0 L949.2 1814.2" fill="none" stroke="#000" stroke-width="0.9" />
<path d="M905.2 1709.7 L909.0 1715.0 L911.8 1720.6" fill="none" stroke="#000" stroke-width="1.0" />
<path d="M955.8 1803.4 L953.9 1806.7 L950.1 1816.1" fill="none" stroke="#000" stroke-width="1.0" />
<path d="M974.5 1728.4 C976.8 1726.4 983.7 1719.2 988.5 1715.9 C993.4 1712.6 998.5 1710.3 1003.5 1708.4 C1008.5 1706.5 1013.2 1705.1 1018.5 1704.7 C1023.8 1704.2 1028.5 1704.2 1035.4 1705.6 C1042.2 1707.0 1051.9 1709.8 1059.7 1713.1 C1067.5 1716.4 1074.7 1719.6 1082.2 1725.3 C1089.7 1730.9 1097.2 1738.5 1104.6 1746.8 C1112.1 1755.1 1120.9 1765.8 1127.1 1774.9 C1133.4 1783.9 1137.7 1793.0 1142.1 1801.1 C1146.5 1809.2 1151.0 1818.9 1153.3 1823.6 C1155.7 1828.3 1156.5 1827.9 1156.1 1829.2 C1155.8 1830.5 1154.4 1831.4 1151.5 1831.4 C1148.5 1831.4 1143.0 1831.1 1138.4 1829.2 C1133.7 1827.3 1127.7 1823.6 1123.4 1819.8 C1119.0 1816.1 1115.9 1812.3 1112.1 1806.7 C1108.4 1801.1 1105.0 1793.3 1100.9 1786.1 C1096.8 1778.9 1092.5 1770.5 1087.8 1763.7 C1083.1 1756.8 1078.4 1749.9 1072.8 1744.9 C1067.2 1739.9 1059.4 1736.2 1054.1 1733.7 C1048.8 1731.2 1044.7 1730.6 1041.0 1729.9 C1037.2 1729.3 1033.2 1729.9 1031.6 1729.9" fill="none" stroke="#000" stroke-width="1.0"/>
<path d="M1031.6 1729.9 C1030.4 1731.8 1026.8 1737.4 1024.1 1741.2 C1021.5 1744.9 1017.1 1750.5 1015.7 1752.4" fill="none" stroke="#000" stroke-width="1.0"/>
<path d="M1015.7 1752.4 C1013.0 1751.8 1004.9 1750.5 999.8 1748.7 C994.6 1746.8 988.5 1743.7 984.8 1741.2 C981.0 1738.7 979.0 1735.8 977.3 1733.7 C975.6 1731.6 975.0 1729.3 974.5 1728.4" fill="none" stroke="#000" stroke-width="1.0"/>
<path d="M1031.6 1729.9 C1029.7 1730.9 1023.2 1733.1 1020.4 1735.6 C1017.6 1738.1 1015.5 1742.1 1014.8 1744.9 C1014.0 1747.7 1015.5 1751.2 1015.7 1752.4" fill="none" stroke="#000" stroke-width="1.0"/>
<path d="M1003.5 1708.4 C1006.0 1708.2 1013.2 1707.1 1018.5 1707.1 C1023.8 1707.1 1028.5 1706.9 1035.4 1708.4 C1042.2 1709.9 1051.9 1712.6 1059.7 1715.9 C1067.5 1719.2 1074.7 1722.7 1082.2 1728.4 C1089.7 1734.2 1097.3 1742.0 1104.6 1750.2 C1112.0 1758.4 1120.1 1768.7 1126.2 1777.7 C1132.3 1786.7 1136.9 1796.0 1141.2 1803.9 C1145.4 1811.9 1149.3 1821.0 1151.5 1825.4 C1153.6 1829.9 1153.8 1829.8 1154.3 1830.7" fill="none" stroke="#000" stroke-width="1.0"/>
<path d="M1205.2 1735.6 L1208.6 1735.6 L1208.6 1780.5 L1207.1 1787.1 L1205.2 1780.5 Z" fill="#fff" stroke="#000" stroke-width="1.0" />
<path d="M1206.9 1736.5 L1206.9 1779.6" fill="none" stroke="#000" stroke-width="0.7" />
<ellipse cx="1206.7" cy="1733.3" rx="3.6" ry="2.6" fill="#fff" stroke="#000" stroke-width="1.0"/>
<path d="M1291.5 1747.7 L1307.4 1747.7 L1307.4 1824.5 L1299.6 1828.3 L1291.5 1824.5 Z" fill="#fff" stroke="#000" stroke-width="1.0" />
<path d="M1290.2 1734.6 L1308.9 1734.6 L1308.9 1747.7 L1290.2 1747.7 Z" fill="#fff" stroke="#000" stroke-width="1.0" />
<path d="M1293.4 1736.5 L1293.4 1747.7" fill="none" stroke="#000" stroke-width="1.0" />
<path d="M1297.1 1736.5 L1297.1 1747.7" fill="none" stroke="#000" stroke-width="1.0" />
<path d="M1300.9 1736.5 L1300.9 1747.7" fill="none" stroke="#000" stroke-width="1.0" />
<path d="M1304.6 1736.5 L1304.6 1747.7" fill="none" stroke="#000" stroke-width="1.0" />
<path d="M1283.1 1725.3 L1283.4 1730.9 L1289.6 1735.2 L1309.3 1735.2 L1316.4 1730.9 L1316.8 1725.3 Z" fill="#fff" stroke="#000" stroke-width="1.0" />
<ellipse cx="1299.9" cy="1725.3" rx="16.9" ry="10.3" fill="#fff" stroke="#000" stroke-width="1.0"/>
<ellipse cx="1299.9" cy="1724.3" rx="12.7" ry="7.5" fill="none" stroke="#000" stroke-width="1.0"/>
<path d="M1291.5 1721.5 L1308.4 1728.1" fill="none" stroke="#000" stroke-width="1.2" />
<path d="M1292.4 1728.4 L1307.4 1720.6" fill="none" stroke="#000" stroke-width="1.2" />
<ellipse cx="1352.9" cy="1818.9" rx="16.9" ry="7.9" fill="#fff" stroke="#000" stroke-width="1.0"/>
<ellipse cx="1352.9" cy="1816.1" rx="16.9" ry="7.9" fill="#fff" stroke="#000" stroke-width="1.0"/>
<path d="M1346.2 1816.1 L1346.2 1778.6 L1352.9 1770.2 L1359.9 1778.6 L1359.9 1816.1 Z" fill="#fff" stroke="#000" stroke-width="1.0" />
<path d="M1346.2 1783.3 L1359.9 1783.3" fill="none" stroke="#000" stroke-width="2.3" />
<path d="M1346.2 1786.9 L1359.9 1786.9" fill="none" stroke="#000" stroke-width="2.3" />
<path d="M1346.2 1790.4 L1359.9 1790.4" fill="none" stroke="#000" stroke-width="2.3" />
<path d="M1346.2 1794.0 L1359.9 1794.0" fill="none" stroke="#000" stroke-width="2.3" />
<path d="M1346.2 1797.5 L1359.9 1797.5" fill="none" stroke="#000" stroke-width="2.3" />
<path d="M1346.2 1801.1 L1359.9 1801.1" fill="none" stroke="#000" stroke-width="2.3" />
<path d="M1346.2 1804.7 L1359.9 1804.7" fill="none" stroke="#000" stroke-width="2.3" />
<path d="M1346.2 1808.2 L1359.9 1808.2" fill="none" stroke="#000" stroke-width="2.3" />
<path d="M1346.2 1811.8 L1359.9 1811.8" fill="none" stroke="#000" stroke-width="2.3" />
<path d="M1346.2 1815.3 L1359.9 1815.3" fill="none" stroke="#000" stroke-width="2.3" />
<path d="M1451.0 1753.5 L1472.1 1742.5 L1478.2 1744.1 L1483.0 1753.3 L1480.8 1759.2 L1459.7 1770.2 Z" fill="#fff" stroke="#000" stroke-width="1.0" />
<ellipse cx="1457.1" cy="1760.9" rx="7.5" ry="12.1" fill="#fff" stroke="#000" stroke-width="1.0" transform="rotate(-27.500409372835136 1457.1 1760.9)"/>
<ellipse cx="1454.7" cy="1762.2" rx="7.5" ry="12.1" fill="#fff" stroke="#000" stroke-width="1.0" transform="rotate(-27.500409372835136 1454.7 1762.2)"/>
<path d="M1428.1 1766.5 L1449.1 1755.6 L1456.8 1770.6 L1435.9 1781.5 Z" fill="#fff" stroke="#000" stroke-width="1.0" />
<path d="M1449.1 1755.6 L1456.8 1770.6" fill="none" stroke="#fff" stroke-width="1.4" />
<ellipse cx="1432.0" cy="1774.0" rx="6.1" ry="8.4" fill="#fff" stroke="#000" stroke-width="1.0" transform="rotate(-27.500409372835136 1432.0 1774.0)"/>
<ellipse cx="1433.0" cy="1773.5" rx="4.9" ry="6.9" fill="none" stroke="#000" stroke-width="1.0" transform="rotate(-27.500409372835136 1433.0 1773.5)"/>
<path d="M1583.4 1792.4 L1577.0 1788.7 L1580.0 1783.5 L1586.4 1787.2 Z" fill="#fff" stroke="#000" stroke-width="1.0" />
<path d="M1576.6 1789.4 L1523.6 1759.0 L1518.1 1751.5 L1518.1 1751.5 L1527.4 1752.4 L1580.4 1782.8 Z" fill="#fff" stroke="#000" stroke-width="1.0" />
<ellipse cx="1576.8" cy="1785.2" rx="2.4" ry="4.8" fill="#fff" stroke="#000" stroke-width="1.25" transform="rotate(-150.1729153455252 1576.8 1785.2)"/>
<ellipse cx="1573.5" cy="1783.3" rx="2.4" ry="4.8" fill="#fff" stroke="#000" stroke-width="1.25" transform="rotate(-150.1729153455252 1573.5 1783.3)"/>
<ellipse cx="1570.2" cy="1781.4" rx="2.4" ry="4.8" fill="#fff" stroke="#000" stroke-width="1.25" transform="rotate(-150.1729153455252 1570.2 1781.4)"/>
<ellipse cx="1566.9" cy="1779.5" rx="2.4" ry="4.8" fill="#fff" stroke="#000" stroke-width="1.25" transform="rotate(-150.1729153455252 1566.9 1779.5)"/>
<ellipse cx="1563.6" cy="1777.6" rx="2.4" ry="4.8" fill="#fff" stroke="#000" stroke-width="1.25" transform="rotate(-150.1729153455252 1563.6 1777.6)"/>
<ellipse cx="1560.3" cy="1775.7" rx="2.4" ry="4.8" fill="#fff" stroke="#000" stroke-width="1.25" transform="rotate(-150.1729153455252 1560.3 1775.7)"/>
<ellipse cx="1557.0" cy="1773.8" rx="2.4" ry="4.8" fill="#fff" stroke="#000" stroke-width="1.25" transform="rotate(-150.1729153455252 1557.0 1773.8)"/>
<ellipse cx="1553.7" cy="1771.9" rx="2.4" ry="4.8" fill="#fff" stroke="#000" stroke-width="1.25" transform="rotate(-150.1729153455252 1553.7 1771.9)"/>
<ellipse cx="1550.3" cy="1770.0" rx="2.4" ry="4.8" fill="#fff" stroke="#000" stroke-width="1.25" transform="rotate(-150.1729153455252 1550.3 1770.0)"/>
<ellipse cx="1547.0" cy="1768.1" rx="2.4" ry="4.8" fill="#fff" stroke="#000" stroke-width="1.25" transform="rotate(-150.1729153455252 1547.0 1768.1)"/>
<ellipse cx="1543.7" cy="1766.2" rx="2.4" ry="4.8" fill="#fff" stroke="#000" stroke-width="1.25" transform="rotate(-150.1729153455252 1543.7 1766.2)"/>
<ellipse cx="1540.4" cy="1764.3" rx="2.4" ry="4.8" fill="#fff" stroke="#000" stroke-width="1.25" transform="rotate(-150.1729153455252 1540.4 1764.3)"/>
<ellipse cx="1537.1" cy="1762.4" rx="2.4" ry="4.8" fill="#fff" stroke="#000" stroke-width="1.25" transform="rotate(-150.1729153455252 1537.1 1762.4)"/>
<ellipse cx="1533.8" cy="1760.5" rx="2.4" ry="4.8" fill="#fff" stroke="#000" stroke-width="1.25" transform="rotate(-150.1729153455252 1533.8 1760.5)"/>
<ellipse cx="1530.5" cy="1758.6" rx="2.4" ry="4.8" fill="#fff" stroke="#000" stroke-width="1.25" transform="rotate(-150.1729153455252 1530.5 1758.6)"/>
<ellipse cx="1527.2" cy="1756.7" rx="2.4" ry="4.8" fill="#fff" stroke="#000" stroke-width="1.25" transform="rotate(-150.1729153455252 1527.2 1756.7)"/>
<path d="M1582.5 1801.8 L1579.5 1790.1 L1582.5 1784.9 L1594.1 1781.7 Z" fill="#fff" stroke="#000" stroke-width="1.0" />
<ellipse cx="1588.3" cy="1791.7" rx="6.5" ry="11.6" fill="#fff" stroke="#000" stroke-width="1.0" transform="rotate(-150.1729153455252 1588.3 1791.7)"/>
<path d="M1586.2 1797.8 L1590.4 1785.7" fill="none" stroke="#000" stroke-width="1.0" />
<path d="M1583.5 1793.0 L1593.1 1790.5" fill="none" stroke="#000" stroke-width="1.0" />
<ellipse cx="1691.5" cy="1760.3" rx="18.2" ry="10.8" fill="#fff" stroke="#000" stroke-width="1.0"/>
<path d="M1673.3 1756.2 L1673.3 1760.3" fill="none" stroke="#000" stroke-width="1.0" />
<path d="M1709.7 1756.2 L1709.7 1760.3" fill="none" stroke="#000" stroke-width="1.0" />
<ellipse cx="1691.5" cy="1756.2" rx="18.2" ry="10.8" fill="#fff" stroke="#000" stroke-width="1.0"/>
<ellipse cx="1691.5" cy="1755.3" rx="10.4" ry="6.3" fill="none" stroke="#000" stroke-width="1.0"/>
<ellipse cx="1691.5" cy="1757.5" rx="8.3" ry="4.3" fill="none" stroke="#000" stroke-width="1.0"/>
</svg>
</body></html>
